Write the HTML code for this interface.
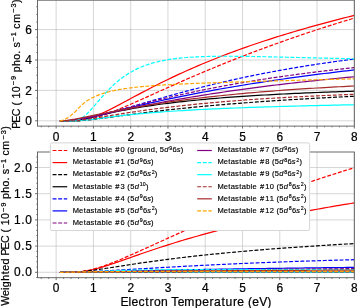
<!DOCTYPE html>
<html><head><meta charset="utf-8"><style>
html,body{margin:0;padding:0;background:#fff;}
svg{display:block;font-family:"Liberation Sans",sans-serif;will-change:transform;}
text{stroke:#000;stroke-width:0.22;}
.lt{stroke:#000;stroke-width:0.16;}
.g{stroke:#b0b0b0;stroke-opacity:0.5;stroke-width:1.0;}
.t{stroke:#5a5a5a;stroke-width:0.9;}
.s{fill:none;stroke:#5a5a5a;stroke-width:0.9;}
</style></head><body>
<svg width="357" height="308" viewBox="0 0 357 308">
<rect width="357" height="308" fill="#fff"/>
<defs><clipPath id="cu"><rect x="37.515" y="0.2" width="316.795" height="125.89999999999999"/></clipPath><clipPath id="cl"><rect x="37.515" y="152.0" width="316.795" height="125.69999999999999"/></clipPath></defs>
<line x1="56.15" y1="0.2" x2="56.15" y2="126.1" class="g"/>
<line x1="93.42" y1="0.2" x2="93.42" y2="126.1" class="g"/>
<line x1="130.69" y1="0.2" x2="130.69" y2="126.1" class="g"/>
<line x1="167.96" y1="0.2" x2="167.96" y2="126.1" class="g"/>
<line x1="205.23" y1="0.2" x2="205.23" y2="126.1" class="g"/>
<line x1="242.50" y1="0.2" x2="242.50" y2="126.1" class="g"/>
<line x1="279.77" y1="0.2" x2="279.77" y2="126.1" class="g"/>
<line x1="317.04" y1="0.2" x2="317.04" y2="126.1" class="g"/>
<line x1="354.31" y1="0.2" x2="354.31" y2="126.1" class="g"/>
<line x1="37.52" y1="120.80" x2="354.31" y2="120.80" class="g"/>
<line x1="37.52" y1="90.40" x2="354.31" y2="90.40" class="g"/>
<line x1="37.52" y1="60.00" x2="354.31" y2="60.00" class="g"/>
<line x1="37.52" y1="29.60" x2="354.31" y2="29.60" class="g"/>
<g clip-path="url(#cu)" fill="none" stroke-width="1.2">
<path d="M59.88,121.20 L61.08,121.20 L62.28,121.20 L63.48,121.20 L64.68,121.20 L65.88,121.20 L67.08,121.19 L68.28,121.19 L69.48,121.18 L70.68,121.16 L71.88,121.13 L73.08,121.09 L74.28,121.04 L75.48,120.97 L76.68,120.90 L77.88,120.80 L79.08,120.69 L80.28,120.56 L81.48,120.41 L82.68,120.25 L83.88,120.07 L85.08,119.87 L86.28,119.66 L87.48,119.43 L88.68,119.18 L89.88,118.92 L91.08,118.64 L92.28,118.35 L93.48,118.04 L94.68,117.72 L95.88,117.39 L97.08,117.04 L98.28,116.69 L99.48,116.32 L100.68,115.94 L101.88,115.55 L103.08,115.15 L104.29,114.74 L105.49,114.33 L106.69,113.90 L107.89,113.47 L109.09,113.03 L110.29,112.58 L111.49,112.12 L112.69,111.66 L113.89,111.19 L115.09,110.72 L116.29,110.24 L117.49,109.76 L118.69,109.27 L119.89,108.78 L121.09,108.28 L122.29,107.78 L123.49,107.28 L124.69,106.77 L125.89,106.26 L127.09,105.75 L128.29,105.23 L129.49,104.71 L130.69,104.19 L134.42,102.56 L138.14,100.91 L141.87,99.25 L145.60,97.58 L149.33,95.90 L153.05,94.22 L156.78,92.55 L160.51,90.87 L164.23,89.20 L167.96,87.53 L171.69,85.86 L175.41,84.21 L179.14,82.56 L182.87,80.92 L186.60,79.30 L190.32,77.68 L194.05,76.07 L197.78,74.47 L201.50,72.89 L205.23,71.32 L208.96,69.75 L212.68,68.21 L216.41,66.67 L220.14,65.14 L223.87,63.63 L227.59,62.13 L231.32,60.64 L235.05,59.17 L238.77,57.71 L242.50,56.26 L246.23,54.82 L249.95,53.40 L253.68,51.98 L257.41,50.58 L261.13,49.19 L264.86,47.82 L268.59,46.45 L272.32,45.10 L276.04,43.76 L279.77,42.43 L283.50,41.11 L287.22,39.80 L290.95,38.51 L294.68,37.22 L298.41,35.95 L302.13,34.69 L305.86,33.44 L309.59,32.19 L313.31,30.96 L317.04,29.74 L320.77,28.53 L324.49,27.33 L328.22,26.14 L331.95,24.96 L335.68,23.79 L339.40,22.62 L343.13,21.47 L346.86,20.33 L350.58,19.20 L354.31,18.07" stroke="#ff0000" stroke-dasharray="3.9,1.7"/>
<path d="M59.88,121.20 L61.08,121.20 L62.28,121.20 L63.48,121.20 L64.68,121.20 L65.88,121.20 L67.08,121.20 L68.28,121.19 L69.48,121.18 L70.68,121.16 L71.88,121.13 L73.08,121.09 L74.28,121.03 L75.48,120.95 L76.68,120.85 L77.88,120.73 L79.08,120.58 L80.28,120.41 L81.48,120.21 L82.68,119.99 L83.88,119.73 L85.08,119.46 L86.28,119.16 L87.48,118.83 L88.68,118.48 L89.88,118.11 L91.08,117.72 L92.28,117.31 L93.48,116.87 L94.68,116.42 L95.88,115.95 L97.08,115.47 L98.28,114.97 L99.48,114.46 L100.68,113.93 L101.88,113.39 L103.08,112.84 L104.29,112.28 L105.49,111.71 L106.69,111.13 L107.89,110.54 L109.09,109.95 L110.29,109.35 L111.49,108.74 L112.69,108.13 L113.89,107.51 L115.09,106.89 L116.29,106.26 L117.49,105.63 L118.69,105.00 L119.89,104.36 L121.09,103.73 L122.29,103.09 L123.49,102.45 L124.69,101.81 L125.89,101.16 L127.09,100.52 L128.29,99.88 L129.49,99.23 L130.69,98.59 L134.42,96.59 L138.14,94.61 L141.87,92.64 L145.60,90.68 L149.33,88.75 L153.05,86.83 L156.78,84.94 L160.51,83.08 L164.23,81.24 L167.96,79.42 L171.69,77.64 L175.41,75.88 L179.14,74.14 L182.87,72.44 L186.60,70.75 L190.32,69.10 L194.05,67.47 L197.78,65.87 L201.50,64.29 L205.23,62.73 L208.96,61.20 L212.68,59.69 L216.41,58.21 L220.14,56.75 L223.87,55.31 L227.59,53.89 L231.32,52.49 L235.05,51.11 L238.77,49.76 L242.50,48.42 L246.23,47.10 L249.95,45.80 L253.68,44.52 L257.41,43.25 L261.13,42.01 L264.86,40.78 L268.59,39.56 L272.32,38.37 L276.04,37.18 L279.77,36.02 L283.50,34.87 L287.22,33.73 L290.95,32.61 L294.68,31.50 L298.41,30.40 L302.13,29.32 L305.86,28.25 L309.59,27.19 L313.31,26.15 L317.04,25.11 L320.77,24.09 L324.49,23.08 L328.22,22.09 L331.95,21.10 L335.68,20.12 L339.40,19.16 L343.13,18.20 L346.86,17.26 L350.58,16.32 L354.31,15.40" stroke="#ff0000"/>
<path d="M59.88,121.20 L61.08,121.20 L62.28,121.20 L63.48,121.20 L64.68,121.20 L65.88,121.20 L67.08,121.19 L68.28,121.18 L69.48,121.16 L70.68,121.14 L71.88,121.11 L73.08,121.08 L74.28,121.03 L75.48,120.98 L76.68,120.92 L77.88,120.85 L79.08,120.78 L80.28,120.69 L81.48,120.60 L82.68,120.50 L83.88,120.40 L85.08,120.29 L86.28,120.18 L87.48,120.06 L88.68,119.93 L89.88,119.80 L91.08,119.67 L92.28,119.53 L93.48,119.39 L94.68,119.25 L95.88,119.10 L97.08,118.95 L98.28,118.80 L99.48,118.65 L100.68,118.50 L101.88,118.34 L103.08,118.18 L104.29,118.02 L105.49,117.87 L106.69,117.70 L107.89,117.54 L109.09,117.38 L110.29,117.22 L111.49,117.06 L112.69,116.89 L113.89,116.73 L115.09,116.57 L116.29,116.41 L117.49,116.24 L118.69,116.08 L119.89,115.92 L121.09,115.76 L122.29,115.59 L123.49,115.43 L124.69,115.27 L125.89,115.11 L127.09,114.95 L128.29,114.79 L129.49,114.63 L130.69,114.47 L134.42,113.99 L138.14,113.50 L141.87,113.03 L145.60,112.56 L149.33,112.11 L153.05,111.66 L156.78,111.21 L160.51,110.78 L164.23,110.35 L167.96,109.93 L171.69,109.52 L175.41,109.12 L179.14,108.73 L182.87,108.34 L186.60,107.96 L190.32,107.59 L194.05,107.22 L197.78,106.86 L201.50,106.51 L205.23,106.17 L208.96,105.83 L212.68,105.49 L216.41,105.17 L220.14,104.85 L223.87,104.53 L227.59,104.22 L231.32,103.92 L235.05,103.62 L238.77,103.33 L242.50,103.04 L246.23,102.76 L249.95,102.48 L253.68,102.21 L257.41,101.94 L261.13,101.67 L264.86,101.42 L268.59,101.16 L272.32,100.91 L276.04,100.66 L279.77,100.42 L283.50,100.18 L287.22,99.94 L290.95,99.71 L294.68,99.48 L298.41,99.26 L302.13,99.04 L305.86,98.82 L309.59,98.60 L313.31,98.39 L317.04,98.18 L320.77,97.98 L324.49,97.78 L328.22,97.58 L331.95,97.38 L335.68,97.19 L339.40,97.00 L343.13,96.81 L346.86,96.62 L350.58,96.44 L354.31,96.26" stroke="#000000" stroke-dasharray="3.9,1.7"/>
<path d="M59.88,121.20 L61.08,121.20 L62.28,121.20 L63.48,121.19 L64.68,121.18 L65.88,121.16 L67.08,121.12 L68.28,121.06 L69.48,120.99 L70.68,120.90 L71.88,120.78 L73.08,120.65 L74.28,120.50 L75.48,120.33 L76.68,120.15 L77.88,119.96 L79.08,119.75 L80.28,119.53 L81.48,119.30 L82.68,119.06 L83.88,118.82 L85.08,118.57 L86.28,118.31 L87.48,118.05 L88.68,117.79 L89.88,117.52 L91.08,117.25 L92.28,116.98 L93.48,116.71 L94.68,116.43 L95.88,116.16 L97.08,115.89 L98.28,115.61 L99.48,115.34 L100.68,115.07 L101.88,114.80 L103.08,114.53 L104.29,114.26 L105.49,114.00 L106.69,113.73 L107.89,113.47 L109.09,113.21 L110.29,112.95 L111.49,112.70 L112.69,112.44 L113.89,112.19 L115.09,111.94 L116.29,111.70 L117.49,111.45 L118.69,111.21 L119.89,110.97 L121.09,110.73 L122.29,110.50 L123.49,110.27 L124.69,110.04 L125.89,109.81 L127.09,109.59 L128.29,109.36 L129.49,109.15 L130.69,108.93 L134.42,108.27 L138.14,107.63 L141.87,107.02 L145.60,106.43 L149.33,105.86 L153.05,105.31 L156.78,104.78 L160.51,104.26 L164.23,103.77 L167.96,103.29 L171.69,102.83 L175.41,102.38 L179.14,101.95 L182.87,101.53 L186.60,101.13 L190.32,100.74 L194.05,100.36 L197.78,99.99 L201.50,99.64 L205.23,99.29 L208.96,98.96 L212.68,98.63 L216.41,98.32 L220.14,98.02 L223.87,97.72 L227.59,97.44 L231.32,97.16 L235.05,96.89 L238.77,96.63 L242.50,96.37 L246.23,96.12 L249.95,95.88 L253.68,95.65 L257.41,95.42 L261.13,95.20 L264.86,94.99 L268.59,94.78 L272.32,94.57 L276.04,94.37 L279.77,94.18 L283.50,93.99 L287.22,93.81 L290.95,93.63 L294.68,93.46 L298.41,93.29 L302.13,93.12 L305.86,92.96 L309.59,92.80 L313.31,92.65 L317.04,92.50 L320.77,92.36 L324.49,92.21 L328.22,92.07 L331.95,91.94 L335.68,91.81 L339.40,91.68 L343.13,91.55 L346.86,91.43 L350.58,91.31 L354.31,91.19" stroke="#000000"/>
<path d="M59.88,121.19 L61.08,121.18 L62.28,121.16 L63.48,121.13 L64.68,121.08 L65.88,121.03 L67.08,120.96 L68.28,120.89 L69.48,120.80 L70.68,120.70 L71.88,120.58 L73.08,120.46 L74.28,120.32 L75.48,120.17 L76.68,120.02 L77.88,119.85 L79.08,119.67 L80.28,119.48 L81.48,119.29 L82.68,119.08 L83.88,118.87 L85.08,118.65 L86.28,118.42 L87.48,118.18 L88.68,117.94 L89.88,117.69 L91.08,117.43 L92.28,117.17 L93.48,116.90 L94.68,116.63 L95.88,116.35 L97.08,116.06 L98.28,115.77 L99.48,115.48 L100.68,115.18 L101.88,114.88 L103.08,114.57 L104.29,114.27 L105.49,113.95 L106.69,113.64 L107.89,113.32 L109.09,113.00 L110.29,112.67 L111.49,112.35 L112.69,112.02 L113.89,111.69 L115.09,111.36 L116.29,111.02 L117.49,110.68 L118.69,110.35 L119.89,110.01 L121.09,109.67 L122.29,109.32 L123.49,108.98 L124.69,108.64 L125.89,108.29 L127.09,107.94 L128.29,107.60 L129.49,107.25 L130.69,106.90 L134.42,105.82 L138.14,104.74 L141.87,103.65 L145.60,102.57 L149.33,101.49 L153.05,100.41 L156.78,99.34 L160.51,98.28 L164.23,97.23 L167.96,96.18 L171.69,95.15 L175.41,94.12 L179.14,93.11 L182.87,92.10 L186.60,91.11 L190.32,90.13 L194.05,89.16 L197.78,88.21 L201.50,87.26 L205.23,86.33 L208.96,85.42 L212.68,84.51 L216.41,83.62 L220.14,82.74 L223.87,81.87 L227.59,81.02 L231.32,80.18 L235.05,79.35 L238.77,78.54 L242.50,77.74 L246.23,76.95 L249.95,76.17 L253.68,75.41 L257.41,74.66 L261.13,73.92 L264.86,73.19 L268.59,72.48 L272.32,71.77 L276.04,71.08 L279.77,70.40 L283.50,69.73 L287.22,69.08 L290.95,68.43 L294.68,67.80 L298.41,67.17 L302.13,66.56 L305.86,65.96 L309.59,65.37 L313.31,64.79 L317.04,64.21 L320.77,63.65 L324.49,63.10 L328.22,62.56 L331.95,62.03 L335.68,61.51 L339.40,60.99 L343.13,60.49 L346.86,59.99 L350.58,59.51 L354.31,59.03" stroke="#0000ff" stroke-dasharray="3.9,1.7"/>
<path d="M59.88,121.20 L61.08,121.20 L62.28,121.18 L63.48,121.16 L64.68,121.12 L65.88,121.06 L67.08,120.99 L68.28,120.89 L69.48,120.79 L70.68,120.66 L71.88,120.52 L73.08,120.36 L74.28,120.20 L75.48,120.02 L76.68,119.82 L77.88,119.62 L79.08,119.41 L80.28,119.19 L81.48,118.97 L82.68,118.73 L83.88,118.49 L85.08,118.25 L86.28,118.00 L87.48,117.74 L88.68,117.48 L89.88,117.22 L91.08,116.95 L92.28,116.68 L93.48,116.41 L94.68,116.13 L95.88,115.85 L97.08,115.57 L98.28,115.29 L99.48,115.00 L100.68,114.72 L101.88,114.43 L103.08,114.15 L104.29,113.86 L105.49,113.57 L106.69,113.28 L107.89,112.99 L109.09,112.70 L110.29,112.41 L111.49,112.12 L112.69,111.83 L113.89,111.54 L115.09,111.24 L116.29,110.95 L117.49,110.66 L118.69,110.37 L119.89,110.08 L121.09,109.80 L122.29,109.51 L123.49,109.22 L124.69,108.93 L125.89,108.64 L127.09,108.36 L128.29,108.07 L129.49,107.79 L130.69,107.50 L134.42,106.62 L138.14,105.75 L141.87,104.89 L145.60,104.04 L149.33,103.20 L153.05,102.36 L156.78,101.54 L160.51,100.73 L164.23,99.92 L167.96,99.13 L171.69,98.35 L175.41,97.57 L179.14,96.81 L182.87,96.05 L186.60,95.31 L190.32,94.58 L194.05,93.85 L197.78,93.13 L201.50,92.43 L205.23,91.73 L208.96,91.04 L212.68,90.36 L216.41,89.69 L220.14,89.03 L223.87,88.38 L227.59,87.73 L231.32,87.10 L235.05,86.47 L238.77,85.85 L242.50,85.24 L246.23,84.63 L249.95,84.03 L253.68,83.44 L257.41,82.86 L261.13,82.29 L264.86,81.72 L268.59,81.16 L272.32,80.60 L276.04,80.05 L279.77,79.51 L283.50,78.98 L287.22,78.45 L290.95,77.93 L294.68,77.41 L298.41,76.90 L302.13,76.40 L305.86,75.90 L309.59,75.41 L313.31,74.92 L317.04,74.44 L320.77,73.96 L324.49,73.49 L328.22,73.03 L331.95,72.57 L335.68,72.11 L339.40,71.66 L343.13,71.22 L346.86,70.78 L350.58,70.35 L354.31,69.92" stroke="#0000ff"/>
<path d="M59.88,121.20 L61.08,121.20 L62.28,121.19 L63.48,121.18 L64.68,121.15 L65.88,121.12 L67.08,121.06 L68.28,120.99 L69.48,120.91 L70.68,120.81 L71.88,120.69 L73.08,120.56 L74.28,120.41 L75.48,120.25 L76.68,120.08 L77.88,119.89 L79.08,119.70 L80.28,119.49 L81.48,119.27 L82.68,119.04 L83.88,118.81 L85.08,118.56 L86.28,118.31 L87.48,118.05 L88.68,117.79 L89.88,117.52 L91.08,117.24 L92.28,116.96 L93.48,116.68 L94.68,116.39 L95.88,116.09 L97.08,115.80 L98.28,115.50 L99.48,115.19 L100.68,114.89 L101.88,114.58 L103.08,114.27 L104.29,113.96 L105.49,113.64 L106.69,113.33 L107.89,113.01 L109.09,112.70 L110.29,112.38 L111.49,112.06 L112.69,111.74 L113.89,111.42 L115.09,111.10 L116.29,110.78 L117.49,110.46 L118.69,110.13 L119.89,109.81 L121.09,109.49 L122.29,109.17 L123.49,108.85 L124.69,108.53 L125.89,108.21 L127.09,107.89 L128.29,107.57 L129.49,107.26 L130.69,106.94 L134.42,105.96 L138.14,104.99 L141.87,104.02 L145.60,103.07 L149.33,102.13 L153.05,101.20 L156.78,100.28 L160.51,99.38 L164.23,98.49 L167.96,97.61 L171.69,96.74 L175.41,95.89 L179.14,95.04 L182.87,94.22 L186.60,93.40 L190.32,92.60 L194.05,91.81 L197.78,91.03 L201.50,90.27 L205.23,89.52 L208.96,88.78 L212.68,88.05 L216.41,87.33 L220.14,86.63 L223.87,85.93 L227.59,85.25 L231.32,84.58 L235.05,83.92 L238.77,83.27 L242.50,82.63 L246.23,82.01 L249.95,81.39 L253.68,80.78 L257.41,80.18 L261.13,79.60 L264.86,79.02 L268.59,78.45 L272.32,77.89 L276.04,77.34 L279.77,76.79 L283.50,76.26 L287.22,75.74 L290.95,75.22 L294.68,74.71 L298.41,74.21 L302.13,73.72 L305.86,73.24 L309.59,72.76 L313.31,72.29 L317.04,71.83 L320.77,71.37 L324.49,70.93 L328.22,70.49 L331.95,70.05 L335.68,69.63 L339.40,69.21 L343.13,68.79 L346.86,68.38 L350.58,67.98 L354.31,67.59" stroke="#800080" stroke-dasharray="3.9,1.7"/>
<path d="M59.88,121.14 L61.08,121.09 L62.28,121.02 L63.48,120.93 L64.68,120.83 L65.88,120.72 L67.08,120.59 L68.28,120.45 L69.48,120.31 L70.68,120.15 L71.88,119.98 L73.08,119.81 L74.28,119.62 L75.48,119.44 L76.68,119.24 L77.88,119.04 L79.08,118.84 L80.28,118.63 L81.48,118.41 L82.68,118.19 L83.88,117.97 L85.08,117.75 L86.28,117.52 L87.48,117.29 L88.68,117.06 L89.88,116.82 L91.08,116.58 L92.28,116.34 L93.48,116.10 L94.68,115.86 L95.88,115.62 L97.08,115.37 L98.28,115.13 L99.48,114.88 L100.68,114.63 L101.88,114.38 L103.08,114.13 L104.29,113.88 L105.49,113.63 L106.69,113.38 L107.89,113.13 L109.09,112.88 L110.29,112.63 L111.49,112.38 L112.69,112.13 L113.89,111.88 L115.09,111.63 L116.29,111.38 L117.49,111.13 L118.69,110.88 L119.89,110.63 L121.09,110.38 L122.29,110.13 L123.49,109.88 L124.69,109.64 L125.89,109.39 L127.09,109.14 L128.29,108.90 L129.49,108.65 L130.69,108.41 L134.42,107.65 L138.14,106.90 L141.87,106.16 L145.60,105.42 L149.33,104.70 L153.05,103.98 L156.78,103.27 L160.51,102.57 L164.23,101.88 L167.96,101.19 L171.69,100.52 L175.41,99.85 L179.14,99.20 L182.87,98.55 L186.60,97.91 L190.32,97.28 L194.05,96.66 L197.78,96.05 L201.50,95.44 L205.23,94.85 L208.96,94.26 L212.68,93.68 L216.41,93.11 L220.14,92.55 L223.87,91.99 L227.59,91.44 L231.32,90.90 L235.05,90.37 L238.77,89.85 L242.50,89.33 L246.23,88.82 L249.95,88.32 L253.68,87.82 L257.41,87.34 L261.13,86.85 L264.86,86.38 L268.59,85.91 L272.32,85.45 L276.04,85.00 L279.77,84.55 L283.50,84.11 L287.22,83.67 L290.95,83.24 L294.68,82.82 L298.41,82.40 L302.13,81.98 L305.86,81.58 L309.59,81.18 L313.31,80.78 L317.04,80.39 L320.77,80.01 L324.49,79.63 L328.22,79.25 L331.95,78.88 L335.68,78.52 L339.40,78.16 L343.13,77.80 L346.86,77.45 L350.58,77.11 L354.31,76.77" stroke="#800080"/>
<path d="M59.88,121.20 L61.08,121.20 L62.28,121.20 L63.48,121.20 L64.68,121.20 L65.88,121.20 L67.08,121.20 L68.28,121.19 L69.48,121.18 L70.68,121.15 L71.88,121.09 L73.08,120.99 L74.28,120.84 L75.48,120.61 L76.68,120.30 L77.88,119.90 L79.08,119.41 L80.28,118.81 L81.48,118.10 L82.68,117.31 L83.88,116.41 L85.08,115.43 L86.28,114.37 L87.48,113.24 L88.68,112.04 L89.88,110.79 L91.08,109.50 L92.28,108.17 L93.48,106.81 L94.68,105.43 L95.88,104.04 L97.08,102.64 L98.28,101.25 L99.48,99.85 L100.68,98.46 L101.88,97.09 L103.08,95.73 L104.29,94.40 L105.49,93.08 L106.69,91.79 L107.89,90.53 L109.09,89.29 L110.29,88.08 L111.49,86.91 L112.69,85.76 L113.89,84.64 L115.09,83.56 L116.29,82.50 L117.49,81.48 L118.69,80.49 L119.89,79.53 L121.09,78.60 L122.29,77.70 L123.49,76.82 L124.69,75.98 L125.89,75.17 L127.09,74.39 L128.29,73.63 L129.49,72.90 L130.69,72.19 L134.42,70.16 L138.14,68.35 L141.87,66.74 L145.60,65.32 L149.33,64.06 L153.05,62.95 L156.78,61.97 L160.51,61.11 L164.23,60.36 L167.96,59.70 L171.69,59.13 L175.41,58.63 L179.14,58.20 L182.87,57.83 L186.60,57.51 L190.32,57.24 L194.05,57.01 L197.78,56.82 L201.50,56.66 L205.23,56.54 L208.96,56.44 L212.68,56.36 L216.41,56.31 L220.14,56.27 L223.87,56.25 L227.59,56.25 L231.32,56.26 L235.05,56.28 L238.77,56.31 L242.50,56.35 L246.23,56.40 L249.95,56.46 L253.68,56.52 L257.41,56.59 L261.13,56.66 L264.86,56.73 L268.59,56.81 L272.32,56.89 L276.04,56.98 L279.77,57.06 L283.50,57.15 L287.22,57.24 L290.95,57.33 L294.68,57.42 L298.41,57.51 L302.13,57.60 L305.86,57.69 L309.59,57.78 L313.31,57.87 L317.04,57.95 L320.77,58.04 L324.49,58.13 L328.22,58.21 L331.95,58.30 L335.68,58.38 L339.40,58.47 L343.13,58.55 L346.86,58.63 L350.58,58.71 L354.31,58.78" stroke="#00ffff" stroke-dasharray="3.9,1.7"/>
<path d="M59.88,121.20 L61.08,121.20 L62.28,121.20 L63.48,121.20 L64.68,121.20 L65.88,121.20 L67.08,121.19 L68.28,121.18 L69.48,121.17 L70.68,121.14 L71.88,121.11 L73.08,121.07 L74.28,121.01 L75.48,120.95 L76.68,120.88 L77.88,120.79 L79.08,120.70 L80.28,120.60 L81.48,120.49 L82.68,120.38 L83.88,120.26 L85.08,120.13 L86.28,120.00 L87.48,119.86 L88.68,119.72 L89.88,119.57 L91.08,119.43 L92.28,119.28 L93.48,119.13 L94.68,118.97 L95.88,118.82 L97.08,118.66 L98.28,118.51 L99.48,118.35 L100.68,118.20 L101.88,118.04 L103.08,117.89 L104.29,117.73 L105.49,117.58 L106.69,117.43 L107.89,117.28 L109.09,117.13 L110.29,116.98 L111.49,116.83 L112.69,116.68 L113.89,116.54 L115.09,116.39 L116.29,116.25 L117.49,116.11 L118.69,115.97 L119.89,115.83 L121.09,115.70 L122.29,115.56 L123.49,115.43 L124.69,115.30 L125.89,115.17 L127.09,115.04 L128.29,114.91 L129.49,114.79 L130.69,114.66 L134.42,114.29 L138.14,113.93 L141.87,113.58 L145.60,113.25 L149.33,112.93 L153.05,112.62 L156.78,112.33 L160.51,112.04 L164.23,111.77 L167.96,111.51 L171.69,111.25 L175.41,111.01 L179.14,110.77 L182.87,110.54 L186.60,110.32 L190.32,110.11 L194.05,109.90 L197.78,109.71 L201.50,109.51 L205.23,109.33 L208.96,109.14 L212.68,108.97 L216.41,108.80 L220.14,108.63 L223.87,108.47 L227.59,108.32 L231.32,108.17 L235.05,108.02 L238.77,107.87 L242.50,107.73 L246.23,107.60 L249.95,107.47 L253.68,107.34 L257.41,107.21 L261.13,107.09 L264.86,106.97 L268.59,106.85 L272.32,106.73 L276.04,106.62 L279.77,106.51 L283.50,106.41 L287.22,106.30 L290.95,106.20 L294.68,106.10 L298.41,106.00 L302.13,105.91 L305.86,105.81 L309.59,105.72 L313.31,105.63 L317.04,105.54 L320.77,105.45 L324.49,105.37 L328.22,105.28 L331.95,105.20 L335.68,105.12 L339.40,105.04 L343.13,104.97 L346.86,104.89 L350.58,104.81 L354.31,104.74" stroke="#00ffff"/>
<path d="M59.88,121.20 L61.08,121.20 L62.28,121.20 L63.48,121.19 L64.68,121.18 L65.88,121.16 L67.08,121.14 L68.28,121.10 L69.48,121.05 L70.68,120.99 L71.88,120.92 L73.08,120.84 L74.28,120.74 L75.48,120.64 L76.68,120.53 L77.88,120.41 L79.08,120.28 L80.28,120.14 L81.48,119.99 L82.68,119.84 L83.88,119.69 L85.08,119.53 L86.28,119.36 L87.48,119.19 L88.68,119.01 L89.88,118.84 L91.08,118.66 L92.28,118.47 L93.48,118.29 L94.68,118.10 L95.88,117.91 L97.08,117.72 L98.28,117.52 L99.48,117.33 L100.68,117.14 L101.88,116.94 L103.08,116.75 L104.29,116.55 L105.49,116.35 L106.69,116.16 L107.89,115.96 L109.09,115.76 L110.29,115.57 L111.49,115.37 L112.69,115.18 L113.89,114.98 L115.09,114.79 L116.29,114.60 L117.49,114.40 L118.69,114.21 L119.89,114.02 L121.09,113.83 L122.29,113.64 L123.49,113.45 L124.69,113.27 L125.89,113.08 L127.09,112.89 L128.29,112.71 L129.49,112.53 L130.69,112.34 L134.42,111.79 L138.14,111.24 L141.87,110.71 L145.60,110.18 L149.33,109.67 L153.05,109.17 L156.78,108.68 L160.51,108.21 L164.23,107.74 L167.96,107.29 L171.69,106.85 L175.41,106.41 L179.14,105.99 L182.87,105.58 L186.60,105.18 L190.32,104.79 L194.05,104.41 L197.78,104.04 L201.50,103.68 L205.23,103.32 L208.96,102.98 L212.68,102.64 L216.41,102.31 L220.14,101.99 L223.87,101.68 L227.59,101.37 L231.32,101.08 L235.05,100.79 L238.77,100.50 L242.50,100.23 L246.23,99.95 L249.95,99.69 L253.68,99.43 L257.41,99.18 L261.13,98.94 L264.86,98.70 L268.59,98.46 L272.32,98.23 L276.04,98.01 L279.77,97.79 L283.50,97.58 L287.22,97.37 L290.95,97.16 L294.68,96.96 L298.41,96.77 L302.13,96.58 L305.86,96.39 L309.59,96.21 L313.31,96.03 L317.04,95.86 L320.77,95.69 L324.49,95.52 L328.22,95.36 L331.95,95.20 L335.68,95.05 L339.40,94.90 L343.13,94.75 L346.86,94.60 L350.58,94.46 L354.31,94.32" stroke="#a52a2a" stroke-dasharray="3.9,1.7"/>
<path d="M59.88,121.12 L61.08,121.04 L62.28,120.95 L63.48,120.84 L64.68,120.70 L65.88,120.56 L67.08,120.40 L68.28,120.23 L69.48,120.05 L70.68,119.86 L71.88,119.66 L73.08,119.45 L74.28,119.24 L75.48,119.02 L76.68,118.80 L77.88,118.58 L79.08,118.35 L80.28,118.11 L81.48,117.88 L82.68,117.64 L83.88,117.40 L85.08,117.16 L86.28,116.91 L87.48,116.67 L88.68,116.42 L89.88,116.18 L91.08,115.93 L92.28,115.69 L93.48,115.44 L94.68,115.19 L95.88,114.95 L97.08,114.70 L98.28,114.45 L99.48,114.21 L100.68,113.96 L101.88,113.72 L103.08,113.47 L104.29,113.23 L105.49,112.99 L106.69,112.75 L107.89,112.51 L109.09,112.27 L110.29,112.03 L111.49,111.80 L112.69,111.56 L113.89,111.33 L115.09,111.09 L116.29,110.86 L117.49,110.63 L118.69,110.40 L119.89,110.17 L121.09,109.95 L122.29,109.72 L123.49,109.50 L124.69,109.27 L125.89,109.05 L127.09,108.83 L128.29,108.61 L129.49,108.40 L130.69,108.18 L134.42,107.52 L138.14,106.87 L141.87,106.24 L145.60,105.62 L149.33,105.01 L153.05,104.42 L156.78,103.84 L160.51,103.27 L164.23,102.72 L167.96,102.18 L171.69,101.65 L175.41,101.13 L179.14,100.62 L182.87,100.13 L186.60,99.64 L190.32,99.17 L194.05,98.71 L197.78,98.25 L201.50,97.81 L205.23,97.38 L208.96,96.96 L212.68,96.54 L216.41,96.14 L220.14,95.75 L223.87,95.36 L227.59,94.98 L231.32,94.61 L235.05,94.25 L238.77,93.90 L242.50,93.55 L246.23,93.21 L249.95,92.88 L253.68,92.56 L257.41,92.24 L261.13,91.93 L264.86,91.63 L268.59,91.33 L272.32,91.04 L276.04,90.76 L279.77,90.48 L283.50,90.21 L287.22,89.94 L290.95,89.68 L294.68,89.42 L298.41,89.17 L302.13,88.93 L305.86,88.69 L309.59,88.46 L313.31,88.23 L317.04,88.00 L320.77,87.78 L324.49,87.57 L328.22,87.36 L331.95,87.15 L335.68,86.95 L339.40,86.75 L343.13,86.55 L346.86,86.36 L350.58,86.18 L354.31,86.00" stroke="#a52a2a"/>
<path d="M59.88,121.20 L61.08,120.59 L62.28,120.21 L63.48,119.79 L64.68,119.34 L65.88,118.82 L67.08,118.14 L68.28,117.40 L69.48,116.58 L70.68,115.60 L71.88,114.58 L73.08,113.60 L74.28,112.58 L75.48,111.49 L76.68,110.21 L77.88,108.88 L79.08,107.64 L80.28,106.44 L81.48,105.29 L82.68,104.18 L83.88,103.13 L85.08,102.12 L86.28,101.24 L87.48,100.46 L88.68,99.73 L89.88,99.04 L91.08,98.38 L92.28,97.76 L93.48,97.17 L94.68,96.61 L95.88,96.08 L97.08,95.58 L98.28,95.10 L99.48,94.64 L100.68,94.21 L101.88,93.80 L103.08,93.41 L104.29,93.04 L105.49,92.68 L106.69,92.34 L107.89,92.02 L109.09,91.71 L110.29,91.41 L111.49,91.13 L112.69,90.85 L113.89,90.59 L115.09,90.34 L116.29,90.11 L117.49,89.88 L118.69,89.65 L119.89,89.44 L121.09,89.24 L122.29,89.04 L123.49,88.85 L124.69,88.67 L125.89,88.49 L127.09,88.32 L128.29,88.16 L129.49,88.00 L130.69,87.85 L134.42,87.41 L138.14,87.00 L141.87,86.64 L145.60,86.30 L149.33,85.99 L153.05,85.70 L156.78,85.44 L160.51,85.19 L164.23,84.96 L167.96,84.74 L171.69,84.53 L175.41,84.34 L179.14,84.15 L182.87,83.97 L186.60,83.81 L190.32,83.64 L194.05,83.49 L197.78,83.34 L201.50,83.19 L205.23,83.05 L208.96,82.91 L212.68,82.78 L216.41,82.65 L220.14,82.52 L223.87,82.40 L227.59,82.28 L231.32,82.16 L235.05,82.04 L238.77,81.93 L242.50,81.81 L246.23,81.70 L249.95,81.59 L253.68,81.48 L257.41,81.38 L261.13,81.27 L264.86,81.16 L268.59,81.06 L272.32,80.96 L276.04,80.86 L279.77,80.75 L283.50,80.65 L287.22,80.55 L290.95,80.45 L294.68,80.35 L298.41,80.26 L302.13,80.16 L305.86,80.06 L309.59,79.96 L313.31,79.87 L317.04,79.77 L320.77,79.68 L324.49,79.58 L328.22,79.49 L331.95,79.39 L335.68,79.30 L339.40,79.20 L343.13,79.11 L346.86,79.01 L350.58,78.92 L354.31,78.83" stroke="#ffa500" stroke-dasharray="3.9,1.7"/>
</g>
<line x1="41.24" y1="126.1" x2="41.24" y2="127.3" class="t"/>
<line x1="48.70" y1="126.1" x2="48.70" y2="127.3" class="t"/>
<line x1="56.15" y1="126.1" x2="56.15" y2="128.5" class="t"/>
<line x1="63.60" y1="126.1" x2="63.60" y2="127.3" class="t"/>
<line x1="71.06" y1="126.1" x2="71.06" y2="127.3" class="t"/>
<line x1="78.51" y1="126.1" x2="78.51" y2="127.3" class="t"/>
<line x1="85.97" y1="126.1" x2="85.97" y2="127.3" class="t"/>
<line x1="93.42" y1="126.1" x2="93.42" y2="128.5" class="t"/>
<line x1="100.87" y1="126.1" x2="100.87" y2="127.3" class="t"/>
<line x1="108.33" y1="126.1" x2="108.33" y2="127.3" class="t"/>
<line x1="115.78" y1="126.1" x2="115.78" y2="127.3" class="t"/>
<line x1="123.24" y1="126.1" x2="123.24" y2="127.3" class="t"/>
<line x1="130.69" y1="126.1" x2="130.69" y2="128.5" class="t"/>
<line x1="138.14" y1="126.1" x2="138.14" y2="127.3" class="t"/>
<line x1="145.60" y1="126.1" x2="145.60" y2="127.3" class="t"/>
<line x1="153.05" y1="126.1" x2="153.05" y2="127.3" class="t"/>
<line x1="160.51" y1="126.1" x2="160.51" y2="127.3" class="t"/>
<line x1="167.96" y1="126.1" x2="167.96" y2="128.5" class="t"/>
<line x1="175.41" y1="126.1" x2="175.41" y2="127.3" class="t"/>
<line x1="182.87" y1="126.1" x2="182.87" y2="127.3" class="t"/>
<line x1="190.32" y1="126.1" x2="190.32" y2="127.3" class="t"/>
<line x1="197.78" y1="126.1" x2="197.78" y2="127.3" class="t"/>
<line x1="205.23" y1="126.1" x2="205.23" y2="128.5" class="t"/>
<line x1="212.68" y1="126.1" x2="212.68" y2="127.3" class="t"/>
<line x1="220.14" y1="126.1" x2="220.14" y2="127.3" class="t"/>
<line x1="227.59" y1="126.1" x2="227.59" y2="127.3" class="t"/>
<line x1="235.05" y1="126.1" x2="235.05" y2="127.3" class="t"/>
<line x1="242.50" y1="126.1" x2="242.50" y2="128.5" class="t"/>
<line x1="249.95" y1="126.1" x2="249.95" y2="127.3" class="t"/>
<line x1="257.41" y1="126.1" x2="257.41" y2="127.3" class="t"/>
<line x1="264.86" y1="126.1" x2="264.86" y2="127.3" class="t"/>
<line x1="272.32" y1="126.1" x2="272.32" y2="127.3" class="t"/>
<line x1="279.77" y1="126.1" x2="279.77" y2="128.5" class="t"/>
<line x1="287.22" y1="126.1" x2="287.22" y2="127.3" class="t"/>
<line x1="294.68" y1="126.1" x2="294.68" y2="127.3" class="t"/>
<line x1="302.13" y1="126.1" x2="302.13" y2="127.3" class="t"/>
<line x1="309.59" y1="126.1" x2="309.59" y2="127.3" class="t"/>
<line x1="317.04" y1="126.1" x2="317.04" y2="128.5" class="t"/>
<line x1="324.49" y1="126.1" x2="324.49" y2="127.3" class="t"/>
<line x1="331.95" y1="126.1" x2="331.95" y2="127.3" class="t"/>
<line x1="339.40" y1="126.1" x2="339.40" y2="127.3" class="t"/>
<line x1="346.86" y1="126.1" x2="346.86" y2="127.3" class="t"/>
<line x1="354.31" y1="126.1" x2="354.31" y2="128.5" class="t"/>
<line x1="35.12" y1="120.80" x2="37.52" y2="120.80" class="t"/>
<line x1="35.12" y1="90.40" x2="37.52" y2="90.40" class="t"/>
<line x1="35.12" y1="60.00" x2="37.52" y2="60.00" class="t"/>
<line x1="35.12" y1="29.60" x2="37.52" y2="29.60" class="t"/>
<line x1="36.31" y1="113.20" x2="37.52" y2="113.20" class="t"/>
<line x1="36.31" y1="105.60" x2="37.52" y2="105.60" class="t"/>
<line x1="36.31" y1="98.00" x2="37.52" y2="98.00" class="t"/>
<line x1="36.31" y1="82.80" x2="37.52" y2="82.80" class="t"/>
<line x1="36.31" y1="75.20" x2="37.52" y2="75.20" class="t"/>
<line x1="36.31" y1="67.60" x2="37.52" y2="67.60" class="t"/>
<line x1="36.31" y1="52.40" x2="37.52" y2="52.40" class="t"/>
<line x1="36.31" y1="44.80" x2="37.52" y2="44.80" class="t"/>
<line x1="36.31" y1="37.20" x2="37.52" y2="37.20" class="t"/>
<line x1="36.31" y1="22.00" x2="37.52" y2="22.00" class="t"/>
<line x1="36.31" y1="14.40" x2="37.52" y2="14.40" class="t"/>
<line x1="36.31" y1="6.80" x2="37.52" y2="6.80" class="t"/>
<rect x="37.52" y="0.2" width="316.80" height="125.89999999999999" class="s"/>
<line x1="56.15" y1="152.0" x2="56.15" y2="277.7" class="g"/>
<line x1="93.42" y1="152.0" x2="93.42" y2="277.7" class="g"/>
<line x1="130.69" y1="152.0" x2="130.69" y2="277.7" class="g"/>
<line x1="167.96" y1="152.0" x2="167.96" y2="277.7" class="g"/>
<line x1="205.23" y1="152.0" x2="205.23" y2="277.7" class="g"/>
<line x1="242.50" y1="152.0" x2="242.50" y2="277.7" class="g"/>
<line x1="279.77" y1="152.0" x2="279.77" y2="277.7" class="g"/>
<line x1="317.04" y1="152.0" x2="317.04" y2="277.7" class="g"/>
<line x1="354.31" y1="152.0" x2="354.31" y2="277.7" class="g"/>
<line x1="37.52" y1="272.30" x2="354.31" y2="272.30" class="g"/>
<line x1="37.52" y1="246.10" x2="354.31" y2="246.10" class="g"/>
<line x1="37.52" y1="219.90" x2="354.31" y2="219.90" class="g"/>
<line x1="37.52" y1="193.70" x2="354.31" y2="193.70" class="g"/>
<line x1="37.52" y1="167.50" x2="354.31" y2="167.50" class="g"/>
<g clip-path="url(#cl)" fill="none" stroke-width="1.2">
<path d="M59.88,272.30 L61.08,272.30 L62.28,272.30 L63.48,272.30 L64.68,272.30 L65.88,272.30 L67.08,272.29 L68.28,272.29 L69.48,272.28 L70.68,272.26 L71.88,272.23 L73.08,272.19 L74.28,272.14 L75.48,272.07 L76.68,271.99 L77.88,271.89 L79.08,271.78 L80.28,271.65 L81.48,271.50 L82.68,271.34 L83.88,271.15 L85.08,270.95 L86.28,270.74 L87.48,270.50 L88.68,270.25 L89.88,269.99 L91.08,269.70 L92.28,269.41 L93.48,269.10 L94.68,268.77 L95.88,268.44 L97.08,268.09 L98.28,267.72 L99.48,267.35 L100.68,266.97 L101.88,266.57 L103.08,266.17 L104.29,265.75 L105.49,265.33 L106.69,264.90 L107.89,264.46 L109.09,264.01 L110.29,263.56 L111.49,263.10 L112.69,262.63 L113.89,262.16 L115.09,261.68 L116.29,261.19 L117.49,260.70 L118.69,260.21 L119.89,259.71 L121.09,259.21 L122.29,258.70 L123.49,258.19 L124.69,257.67 L125.89,257.16 L127.09,256.63 L128.29,256.11 L129.49,255.58 L130.69,255.06 L134.42,253.40 L138.14,251.73 L141.87,250.05 L145.60,248.35 L149.33,246.66 L153.05,244.96 L156.78,243.25 L160.51,241.55 L164.23,239.86 L167.96,238.17 L171.69,236.48 L175.41,234.80 L179.14,233.14 L182.87,231.47 L186.60,229.82 L190.32,228.18 L194.05,226.55 L197.78,224.94 L201.50,223.33 L205.23,221.74 L208.96,220.15 L212.68,218.58 L216.41,217.02 L220.14,215.48 L223.87,213.95 L227.59,212.43 L231.32,210.92 L235.05,209.42 L238.77,207.94 L242.50,206.47 L246.23,205.02 L249.95,203.57 L253.68,202.14 L257.41,200.72 L261.13,199.31 L264.86,197.92 L268.59,196.53 L272.32,195.16 L276.04,193.80 L279.77,192.46 L283.50,191.12 L287.22,189.79 L290.95,188.48 L294.68,187.18 L298.41,185.89 L302.13,184.61 L305.86,183.34 L309.59,182.08 L313.31,180.83 L317.04,179.59 L320.77,178.37 L324.49,177.15 L328.22,175.94 L331.95,174.75 L335.68,173.56 L339.40,172.38 L343.13,171.21 L346.86,170.05 L350.58,168.90 L354.31,167.76" stroke="#ff0000" stroke-dasharray="3.9,1.7"/>
<path d="M59.88,272.30 L61.08,272.30 L62.28,272.30 L63.48,272.30 L64.68,272.30 L65.88,272.30 L67.08,272.30 L68.28,272.29 L69.48,272.29 L70.68,272.28 L71.88,272.26 L73.08,272.23 L74.28,272.19 L75.48,272.14 L76.68,272.07 L77.88,271.99 L79.08,271.89 L80.28,271.78 L81.48,271.65 L82.68,271.50 L83.88,271.34 L85.08,271.16 L86.28,270.96 L87.48,270.75 L88.68,270.52 L89.88,270.27 L91.08,270.02 L92.28,269.74 L93.48,269.46 L94.68,269.16 L95.88,268.86 L97.08,268.54 L98.28,268.21 L99.48,267.87 L100.68,267.53 L101.88,267.18 L103.08,266.81 L104.29,266.45 L105.49,266.07 L106.69,265.69 L107.89,265.31 L109.09,264.92 L110.29,264.52 L111.49,264.12 L112.69,263.72 L113.89,263.31 L115.09,262.91 L116.29,262.50 L117.49,262.08 L118.69,261.67 L119.89,261.25 L121.09,260.83 L122.29,260.41 L123.49,259.99 L124.69,259.57 L125.89,259.15 L127.09,258.73 L128.29,258.31 L129.49,257.88 L130.69,257.46 L134.42,256.15 L138.14,254.85 L141.87,253.55 L145.60,252.27 L149.33,251.00 L153.05,249.75 L156.78,248.51 L160.51,247.28 L164.23,246.07 L167.96,244.88 L171.69,243.71 L175.41,242.55 L179.14,241.42 L182.87,240.30 L186.60,239.19 L190.32,238.11 L194.05,237.04 L197.78,235.98 L201.50,234.95 L205.23,233.93 L208.96,232.92 L212.68,231.93 L216.41,230.96 L220.14,230.00 L223.87,229.06 L227.59,228.12 L231.32,227.21 L235.05,226.30 L238.77,225.41 L242.50,224.53 L246.23,223.67 L249.95,222.82 L253.68,221.98 L257.41,221.15 L261.13,220.33 L264.86,219.52 L268.59,218.72 L272.32,217.94 L276.04,217.16 L279.77,216.40 L283.50,215.64 L287.22,214.89 L290.95,214.16 L294.68,213.43 L298.41,212.71 L302.13,212.00 L305.86,211.30 L309.59,210.60 L313.31,209.92 L317.04,209.24 L320.77,208.57 L324.49,207.91 L328.22,207.25 L331.95,206.60 L335.68,205.96 L339.40,205.33 L343.13,204.70 L346.86,204.08 L350.58,203.47 L354.31,202.86" stroke="#ff0000"/>
<path d="M59.88,272.30 L61.08,272.30 L62.28,272.30 L63.48,272.30 L64.68,272.30 L65.88,272.29 L67.08,272.29 L68.28,272.28 L69.48,272.26 L70.68,272.23 L71.88,272.20 L73.08,272.16 L74.28,272.11 L75.48,272.05 L76.68,271.98 L77.88,271.90 L79.08,271.81 L80.28,271.72 L81.48,271.61 L82.68,271.50 L83.88,271.38 L85.08,271.25 L86.28,271.12 L87.48,270.98 L88.68,270.84 L89.88,270.69 L91.08,270.54 L92.28,270.38 L93.48,270.22 L94.68,270.05 L95.88,269.89 L97.08,269.71 L98.28,269.54 L99.48,269.37 L100.68,269.19 L101.88,269.01 L103.08,268.83 L104.29,268.65 L105.49,268.46 L106.69,268.28 L107.89,268.09 L109.09,267.91 L110.29,267.72 L111.49,267.53 L112.69,267.34 L113.89,267.16 L115.09,266.97 L116.29,266.78 L117.49,266.59 L118.69,266.41 L119.89,266.22 L121.09,266.03 L122.29,265.85 L123.49,265.66 L124.69,265.48 L125.89,265.29 L127.09,265.11 L128.29,264.92 L129.49,264.74 L130.69,264.56 L134.42,264.00 L138.14,263.44 L141.87,262.90 L145.60,262.36 L149.33,261.83 L153.05,261.31 L156.78,260.80 L160.51,260.30 L164.23,259.81 L167.96,259.33 L171.69,258.86 L175.41,258.40 L179.14,257.94 L182.87,257.50 L186.60,257.06 L190.32,256.63 L194.05,256.21 L197.78,255.80 L201.50,255.39 L205.23,254.99 L208.96,254.60 L212.68,254.22 L216.41,253.85 L220.14,253.48 L223.87,253.11 L227.59,252.76 L231.32,252.41 L235.05,252.07 L238.77,251.73 L242.50,251.40 L246.23,251.07 L249.95,250.75 L253.68,250.44 L257.41,250.13 L261.13,249.83 L264.86,249.53 L268.59,249.23 L272.32,248.94 L276.04,248.66 L279.77,248.38 L283.50,248.10 L287.22,247.83 L290.95,247.56 L294.68,247.30 L298.41,247.04 L302.13,246.79 L305.86,246.54 L309.59,246.29 L313.31,246.05 L317.04,245.81 L320.77,245.57 L324.49,245.34 L328.22,245.11 L331.95,244.88 L335.68,244.66 L339.40,244.44 L343.13,244.22 L346.86,244.01 L350.58,243.80 L354.31,243.59" stroke="#000000" stroke-dasharray="3.9,1.7"/>
<path d="M59.88,272.30 L61.08,272.30 L62.28,272.30 L63.48,272.30 L64.68,272.30 L65.88,272.30 L67.08,272.30 L68.28,272.30 L69.48,272.30 L70.68,272.30 L71.88,272.29 L73.08,272.29 L74.28,272.29 L75.48,272.29 L76.68,272.29 L77.88,272.28 L79.08,272.28 L80.28,272.28 L81.48,272.27 L82.68,272.27 L83.88,272.27 L85.08,272.26 L86.28,272.26 L87.48,272.26 L88.68,272.25 L89.88,272.25 L91.08,272.25 L92.28,272.24 L93.48,272.24 L94.68,272.23 L95.88,272.23 L97.08,272.23 L98.28,272.22 L99.48,272.22 L100.68,272.22 L101.88,272.21 L103.08,272.21 L104.29,272.20 L105.49,272.20 L106.69,272.20 L107.89,272.19 L109.09,272.19 L110.29,272.19 L111.49,272.18 L112.69,272.18 L113.89,272.18 L115.09,272.17 L116.29,272.17 L117.49,272.17 L118.69,272.16 L119.89,272.16 L121.09,272.16 L122.29,272.15 L123.49,272.15 L124.69,272.15 L125.89,272.14 L127.09,272.14 L128.29,272.14 L129.49,272.13 L130.69,272.13 L134.42,272.12 L138.14,272.11 L141.87,272.11 L145.60,272.10 L149.33,272.09 L153.05,272.08 L156.78,272.07 L160.51,272.07 L164.23,272.06 L167.96,272.05 L171.69,272.05 L175.41,272.04 L179.14,272.04 L182.87,272.03 L186.60,272.02 L190.32,272.02 L194.05,272.01 L197.78,272.01 L201.50,272.00 L205.23,272.00 L208.96,271.99 L212.68,271.99 L216.41,271.99 L220.14,271.98 L223.87,271.98 L227.59,271.97 L231.32,271.97 L235.05,271.97 L238.77,271.96 L242.50,271.96 L246.23,271.96 L249.95,271.95 L253.68,271.95 L257.41,271.95 L261.13,271.94 L264.86,271.94 L268.59,271.94 L272.32,271.93 L276.04,271.93 L279.77,271.93 L283.50,271.93 L287.22,271.92 L290.95,271.92 L294.68,271.92 L298.41,271.92 L302.13,271.91 L305.86,271.91 L309.59,271.91 L313.31,271.91 L317.04,271.91 L320.77,271.90 L324.49,271.90 L328.22,271.90 L331.95,271.90 L335.68,271.90 L339.40,271.89 L343.13,271.89 L346.86,271.89 L350.58,271.89 L354.31,271.89" stroke="#000000"/>
<path d="M59.88,272.30 L61.08,272.30 L62.28,272.29 L63.48,272.28 L64.68,272.28 L65.88,272.27 L67.08,272.25 L68.28,272.24 L69.48,272.22 L70.68,272.20 L71.88,272.17 L73.08,272.15 L74.28,272.12 L75.48,272.09 L76.68,272.06 L77.88,272.03 L79.08,271.99 L80.28,271.95 L81.48,271.91 L82.68,271.87 L83.88,271.83 L85.08,271.78 L86.28,271.74 L87.48,271.69 L88.68,271.64 L89.88,271.59 L91.08,271.54 L92.28,271.48 L93.48,271.43 L94.68,271.37 L95.88,271.32 L97.08,271.26 L98.28,271.20 L99.48,271.14 L100.68,271.08 L101.88,271.02 L103.08,270.96 L104.29,270.89 L105.49,270.83 L106.69,270.77 L107.89,270.70 L109.09,270.64 L110.29,270.57 L111.49,270.51 L112.69,270.44 L113.89,270.37 L115.09,270.30 L116.29,270.24 L117.49,270.17 L118.69,270.10 L119.89,270.03 L121.09,269.96 L122.29,269.89 L123.49,269.82 L124.69,269.75 L125.89,269.68 L127.09,269.61 L128.29,269.54 L129.49,269.47 L130.69,269.40 L134.42,269.18 L138.14,268.96 L141.87,268.74 L145.60,268.52 L149.33,268.30 L153.05,268.09 L156.78,267.87 L160.51,267.65 L164.23,267.44 L167.96,267.23 L171.69,267.02 L175.41,266.81 L179.14,266.60 L182.87,266.40 L186.60,266.20 L190.32,266.00 L194.05,265.81 L197.78,265.61 L201.50,265.42 L205.23,265.23 L208.96,265.05 L212.68,264.86 L216.41,264.68 L220.14,264.50 L223.87,264.33 L227.59,264.15 L231.32,263.98 L235.05,263.82 L238.77,263.65 L242.50,263.49 L246.23,263.33 L249.95,263.17 L253.68,263.02 L257.41,262.86 L261.13,262.71 L264.86,262.57 L268.59,262.42 L272.32,262.28 L276.04,262.14 L279.77,262.00 L283.50,261.87 L287.22,261.73 L290.95,261.60 L294.68,261.47 L298.41,261.35 L302.13,261.22 L305.86,261.10 L309.59,260.98 L313.31,260.86 L317.04,260.75 L320.77,260.63 L324.49,260.52 L328.22,260.41 L331.95,260.30 L335.68,260.20 L339.40,260.09 L343.13,259.99 L346.86,259.89 L350.58,259.79 L354.31,259.70" stroke="#0000ff" stroke-dasharray="3.9,1.7"/>
<path d="M59.88,272.30 L61.08,272.30 L62.28,272.30 L63.48,272.30 L64.68,272.29 L65.88,272.29 L67.08,272.28 L68.28,272.27 L69.48,272.26 L70.68,272.25 L71.88,272.23 L73.08,272.22 L74.28,272.20 L75.48,272.19 L76.68,272.17 L77.88,272.15 L79.08,272.13 L80.28,272.11 L81.48,272.09 L82.68,272.06 L83.88,272.04 L85.08,272.02 L86.28,271.99 L87.48,271.97 L88.68,271.94 L89.88,271.92 L91.08,271.89 L92.28,271.87 L93.48,271.84 L94.68,271.81 L95.88,271.79 L97.08,271.76 L98.28,271.73 L99.48,271.70 L100.68,271.68 L101.88,271.65 L103.08,271.62 L104.29,271.59 L105.49,271.57 L106.69,271.54 L107.89,271.51 L109.09,271.48 L110.29,271.45 L111.49,271.43 L112.69,271.40 L113.89,271.37 L115.09,271.34 L116.29,271.31 L117.49,271.29 L118.69,271.26 L119.89,271.23 L121.09,271.20 L122.29,271.17 L123.49,271.15 L124.69,271.12 L125.89,271.09 L127.09,271.06 L128.29,271.04 L129.49,271.01 L130.69,270.98 L134.42,270.90 L138.14,270.81 L141.87,270.73 L145.60,270.65 L149.33,270.57 L153.05,270.49 L156.78,270.41 L160.51,270.33 L164.23,270.25 L167.96,270.18 L171.69,270.10 L175.41,270.03 L179.14,269.95 L182.87,269.88 L186.60,269.81 L190.32,269.74 L194.05,269.67 L197.78,269.60 L201.50,269.53 L205.23,269.46 L208.96,269.40 L212.68,269.33 L216.41,269.27 L220.14,269.21 L223.87,269.14 L227.59,269.08 L231.32,269.02 L235.05,268.96 L238.77,268.90 L242.50,268.84 L246.23,268.78 L249.95,268.72 L253.68,268.67 L257.41,268.61 L261.13,268.56 L264.86,268.50 L268.59,268.45 L272.32,268.39 L276.04,268.34 L279.77,268.29 L283.50,268.24 L287.22,268.19 L290.95,268.14 L294.68,268.09 L298.41,268.04 L302.13,267.99 L305.86,267.94 L309.59,267.89 L313.31,267.85 L317.04,267.80 L320.77,267.76 L324.49,267.71 L328.22,267.67 L331.95,267.62 L335.68,267.58 L339.40,267.53 L343.13,267.49 L346.86,267.45 L350.58,267.41 L354.31,267.37" stroke="#0000ff"/>
<path d="M59.88,272.30 L61.08,272.30 L62.28,272.30 L63.48,272.30 L64.68,272.30 L65.88,272.29 L67.08,272.29 L68.28,272.29 L69.48,272.28 L70.68,272.27 L71.88,272.27 L73.08,272.26 L74.28,272.25 L75.48,272.23 L76.68,272.22 L77.88,272.21 L79.08,272.20 L80.28,272.18 L81.48,272.17 L82.68,272.15 L83.88,272.14 L85.08,272.12 L86.28,272.10 L87.48,272.08 L88.68,272.07 L89.88,272.05 L91.08,272.03 L92.28,272.01 L93.48,271.99 L94.68,271.97 L95.88,271.95 L97.08,271.93 L98.28,271.91 L99.48,271.89 L100.68,271.87 L101.88,271.84 L103.08,271.82 L104.29,271.80 L105.49,271.78 L106.69,271.76 L107.89,271.74 L109.09,271.72 L110.29,271.69 L111.49,271.67 L112.69,271.65 L113.89,271.63 L115.09,271.61 L116.29,271.58 L117.49,271.56 L118.69,271.54 L119.89,271.52 L121.09,271.50 L122.29,271.47 L123.49,271.45 L124.69,271.43 L125.89,271.41 L127.09,271.39 L128.29,271.36 L129.49,271.34 L130.69,271.32 L134.42,271.25 L138.14,271.19 L141.87,271.12 L145.60,271.05 L149.33,270.99 L153.05,270.93 L156.78,270.86 L160.51,270.80 L164.23,270.74 L167.96,270.68 L171.69,270.62 L175.41,270.56 L179.14,270.50 L182.87,270.45 L186.60,270.39 L190.32,270.33 L194.05,270.28 L197.78,270.23 L201.50,270.17 L205.23,270.12 L208.96,270.07 L212.68,270.02 L216.41,269.97 L220.14,269.92 L223.87,269.88 L227.59,269.83 L231.32,269.78 L235.05,269.74 L238.77,269.69 L242.50,269.65 L246.23,269.61 L249.95,269.56 L253.68,269.52 L257.41,269.48 L261.13,269.44 L264.86,269.40 L268.59,269.36 L272.32,269.32 L276.04,269.29 L279.77,269.25 L283.50,269.21 L287.22,269.18 L290.95,269.14 L294.68,269.11 L298.41,269.07 L302.13,269.04 L305.86,269.00 L309.59,268.97 L313.31,268.94 L317.04,268.91 L320.77,268.88 L324.49,268.85 L328.22,268.81 L331.95,268.79 L335.68,268.76 L339.40,268.73 L343.13,268.70 L346.86,268.67 L350.58,268.64 L354.31,268.62" stroke="#800080" stroke-dasharray="3.9,1.7"/>
<path d="M59.88,272.30 L61.08,272.30 L62.28,272.30 L63.48,272.30 L64.68,272.29 L65.88,272.29 L67.08,272.29 L68.28,272.29 L69.48,272.29 L70.68,272.29 L71.88,272.28 L73.08,272.28 L74.28,272.28 L75.48,272.28 L76.68,272.27 L77.88,272.27 L79.08,272.27 L80.28,272.26 L81.48,272.26 L82.68,272.26 L83.88,272.26 L85.08,272.25 L86.28,272.25 L87.48,272.25 L88.68,272.24 L89.88,272.24 L91.08,272.24 L92.28,272.23 L93.48,272.23 L94.68,272.23 L95.88,272.22 L97.08,272.22 L98.28,272.22 L99.48,272.21 L100.68,272.21 L101.88,272.21 L103.08,272.20 L104.29,272.20 L105.49,272.20 L106.69,272.19 L107.89,272.19 L109.09,272.19 L110.29,272.18 L111.49,272.18 L112.69,272.18 L113.89,272.17 L115.09,272.17 L116.29,272.17 L117.49,272.16 L118.69,272.16 L119.89,272.15 L121.09,272.15 L122.29,272.15 L123.49,272.14 L124.69,272.14 L125.89,272.14 L127.09,272.13 L128.29,272.13 L129.49,272.13 L130.69,272.12 L134.42,272.11 L138.14,272.10 L141.87,272.09 L145.60,272.08 L149.33,272.07 L153.05,272.06 L156.78,272.05 L160.51,272.04 L164.23,272.03 L167.96,272.03 L171.69,272.02 L175.41,272.01 L179.14,272.00 L182.87,271.99 L186.60,271.98 L190.32,271.97 L194.05,271.96 L197.78,271.95 L201.50,271.95 L205.23,271.94 L208.96,271.93 L212.68,271.92 L216.41,271.91 L220.14,271.91 L223.87,271.90 L227.59,271.89 L231.32,271.88 L235.05,271.88 L238.77,271.87 L242.50,271.86 L246.23,271.85 L249.95,271.85 L253.68,271.84 L257.41,271.83 L261.13,271.83 L264.86,271.82 L268.59,271.81 L272.32,271.81 L276.04,271.80 L279.77,271.80 L283.50,271.79 L287.22,271.78 L290.95,271.78 L294.68,271.77 L298.41,271.77 L302.13,271.76 L305.86,271.76 L309.59,271.75 L313.31,271.74 L317.04,271.74 L320.77,271.73 L324.49,271.73 L328.22,271.72 L331.95,271.72 L335.68,271.71 L339.40,271.71 L343.13,271.70 L346.86,271.70 L350.58,271.69 L354.31,271.69" stroke="#800080"/>
<path d="M59.88,272.30 L61.08,272.30 L62.28,272.30 L63.48,272.30 L64.68,272.30 L65.88,272.30 L67.08,272.30 L68.28,272.30 L69.48,272.30 L70.68,272.30 L71.88,272.30 L73.08,272.29 L74.28,272.28 L75.48,272.27 L76.68,272.26 L77.88,272.24 L79.08,272.22 L80.28,272.20 L81.48,272.17 L82.68,272.13 L83.88,272.09 L85.08,272.05 L86.28,272.01 L87.48,271.96 L88.68,271.91 L89.88,271.85 L91.08,271.80 L92.28,271.74 L93.48,271.68 L94.68,271.62 L95.88,271.56 L97.08,271.50 L98.28,271.44 L99.48,271.38 L100.68,271.32 L101.88,271.26 L103.08,271.21 L104.29,271.15 L105.49,271.09 L106.69,271.04 L107.89,270.98 L109.09,270.93 L110.29,270.88 L111.49,270.83 L112.69,270.78 L113.89,270.73 L115.09,270.68 L116.29,270.64 L117.49,270.59 L118.69,270.55 L119.89,270.51 L121.09,270.47 L122.29,270.43 L123.49,270.39 L124.69,270.36 L125.89,270.32 L127.09,270.29 L128.29,270.26 L129.49,270.23 L130.69,270.20 L134.42,270.11 L138.14,270.03 L141.87,269.96 L145.60,269.90 L149.33,269.85 L153.05,269.80 L156.78,269.76 L160.51,269.72 L164.23,269.69 L167.96,269.66 L171.69,269.63 L175.41,269.61 L179.14,269.59 L182.87,269.58 L186.60,269.56 L190.32,269.55 L194.05,269.54 L197.78,269.53 L201.50,269.53 L205.23,269.52 L208.96,269.52 L212.68,269.52 L216.41,269.51 L220.14,269.51 L223.87,269.51 L227.59,269.51 L231.32,269.51 L235.05,269.51 L238.77,269.51 L242.50,269.51 L246.23,269.52 L249.95,269.52 L253.68,269.52 L257.41,269.52 L261.13,269.53 L264.86,269.53 L268.59,269.53 L272.32,269.54 L276.04,269.54 L279.77,269.55 L283.50,269.55 L287.22,269.55 L290.95,269.56 L294.68,269.56 L298.41,269.56 L302.13,269.57 L305.86,269.57 L309.59,269.58 L313.31,269.58 L317.04,269.58 L320.77,269.59 L324.49,269.59 L328.22,269.59 L331.95,269.60 L335.68,269.60 L339.40,269.61 L343.13,269.61 L346.86,269.61 L350.58,269.62 L354.31,269.62" stroke="#00ffff" stroke-dasharray="3.9,1.7"/>
<path d="M59.88,272.30 L61.08,272.30 L62.28,272.30 L63.48,272.30 L64.68,272.30 L65.88,272.30 L67.08,272.30 L68.28,272.30 L69.48,272.30 L70.68,272.30 L71.88,272.30 L73.08,272.30 L74.28,272.30 L75.48,272.30 L76.68,272.30 L77.88,272.30 L79.08,272.30 L80.28,272.30 L81.48,272.30 L82.68,272.29 L83.88,272.29 L85.08,272.29 L86.28,272.29 L87.48,272.29 L88.68,272.29 L89.88,272.29 L91.08,272.29 L92.28,272.29 L93.48,272.29 L94.68,272.28 L95.88,272.28 L97.08,272.28 L98.28,272.28 L99.48,272.28 L100.68,272.28 L101.88,272.28 L103.08,272.28 L104.29,272.28 L105.49,272.28 L106.69,272.27 L107.89,272.27 L109.09,272.27 L110.29,272.27 L111.49,272.27 L112.69,272.27 L113.89,272.27 L115.09,272.27 L116.29,272.27 L117.49,272.27 L118.69,272.26 L119.89,272.26 L121.09,272.26 L122.29,272.26 L123.49,272.26 L124.69,272.26 L125.89,272.26 L127.09,272.26 L128.29,272.26 L129.49,272.26 L130.69,272.26 L134.42,272.25 L138.14,272.25 L141.87,272.25 L145.60,272.25 L149.33,272.24 L153.05,272.24 L156.78,272.24 L160.51,272.24 L164.23,272.24 L167.96,272.23 L171.69,272.23 L175.41,272.23 L179.14,272.23 L182.87,272.23 L186.60,272.23 L190.32,272.22 L194.05,272.22 L197.78,272.22 L201.50,272.22 L205.23,272.22 L208.96,272.22 L212.68,272.22 L216.41,272.21 L220.14,272.21 L223.87,272.21 L227.59,272.21 L231.32,272.21 L235.05,272.21 L238.77,272.21 L242.50,272.21 L246.23,272.21 L249.95,272.21 L253.68,272.20 L257.41,272.20 L261.13,272.20 L264.86,272.20 L268.59,272.20 L272.32,272.20 L276.04,272.20 L279.77,272.20 L283.50,272.20 L287.22,272.20 L290.95,272.20 L294.68,272.20 L298.41,272.20 L302.13,272.19 L305.86,272.19 L309.59,272.19 L313.31,272.19 L317.04,272.19 L320.77,272.19 L324.49,272.19 L328.22,272.19 L331.95,272.19 L335.68,272.19 L339.40,272.19 L343.13,272.19 L346.86,272.19 L350.58,272.19 L354.31,272.19" stroke="#00ffff"/>
<path d="M59.88,272.30 L61.08,272.30 L62.28,272.30 L63.48,272.30 L64.68,272.30 L65.88,272.30 L67.08,272.30 L68.28,272.30 L69.48,272.30 L70.68,272.30 L71.88,272.30 L73.08,272.29 L74.28,272.29 L75.48,272.29 L76.68,272.29 L77.88,272.29 L79.08,272.28 L80.28,272.28 L81.48,272.28 L82.68,272.28 L83.88,272.27 L85.08,272.27 L86.28,272.27 L87.48,272.27 L88.68,272.26 L89.88,272.26 L91.08,272.26 L92.28,272.25 L93.48,272.25 L94.68,272.25 L95.88,272.24 L97.08,272.24 L98.28,272.24 L99.48,272.23 L100.68,272.23 L101.88,272.23 L103.08,272.22 L104.29,272.22 L105.49,272.22 L106.69,272.21 L107.89,272.21 L109.09,272.21 L110.29,272.20 L111.49,272.20 L112.69,272.20 L113.89,272.19 L115.09,272.19 L116.29,272.19 L117.49,272.18 L118.69,272.18 L119.89,272.18 L121.09,272.17 L122.29,272.17 L123.49,272.17 L124.69,272.16 L125.89,272.16 L127.09,272.16 L128.29,272.15 L129.49,272.15 L130.69,272.15 L134.42,272.14 L138.14,272.13 L141.87,272.12 L145.60,272.11 L149.33,272.10 L153.05,272.09 L156.78,272.08 L160.51,272.08 L164.23,272.07 L167.96,272.06 L171.69,272.05 L175.41,272.05 L179.14,272.04 L182.87,272.03 L186.60,272.02 L190.32,272.02 L194.05,272.01 L197.78,272.01 L201.50,272.00 L205.23,271.99 L208.96,271.99 L212.68,271.98 L216.41,271.98 L220.14,271.97 L223.87,271.96 L227.59,271.96 L231.32,271.95 L235.05,271.95 L238.77,271.94 L242.50,271.94 L246.23,271.93 L249.95,271.93 L253.68,271.93 L257.41,271.92 L261.13,271.92 L264.86,271.91 L268.59,271.91 L272.32,271.91 L276.04,271.90 L279.77,271.90 L283.50,271.89 L287.22,271.89 L290.95,271.89 L294.68,271.88 L298.41,271.88 L302.13,271.88 L305.86,271.87 L309.59,271.87 L313.31,271.87 L317.04,271.86 L320.77,271.86 L324.49,271.86 L328.22,271.86 L331.95,271.85 L335.68,271.85 L339.40,271.85 L343.13,271.85 L346.86,271.84 L350.58,271.84 L354.31,271.84" stroke="#a52a2a" stroke-dasharray="3.9,1.7"/>
<path d="M59.88,272.29 L61.08,272.29 L62.28,272.28 L63.48,272.28 L64.68,272.27 L65.88,272.26 L67.08,272.25 L68.28,272.24 L69.48,272.23 L70.68,272.22 L71.88,272.20 L73.08,272.19 L74.28,272.18 L75.48,272.17 L76.68,272.15 L77.88,272.14 L79.08,272.12 L80.28,272.11 L81.48,272.09 L82.68,272.08 L83.88,272.06 L85.08,272.05 L86.28,272.03 L87.48,272.02 L88.68,272.00 L89.88,271.99 L91.08,271.97 L92.28,271.96 L93.48,271.94 L94.68,271.93 L95.88,271.91 L97.08,271.90 L98.28,271.88 L99.48,271.87 L100.68,271.85 L101.88,271.84 L103.08,271.82 L104.29,271.81 L105.49,271.79 L106.69,271.78 L107.89,271.76 L109.09,271.75 L110.29,271.73 L111.49,271.72 L112.69,271.70 L113.89,271.69 L115.09,271.67 L116.29,271.66 L117.49,271.65 L118.69,271.63 L119.89,271.62 L121.09,271.60 L122.29,271.59 L123.49,271.58 L124.69,271.56 L125.89,271.55 L127.09,271.54 L128.29,271.52 L129.49,271.51 L130.69,271.49 L134.42,271.45 L138.14,271.41 L141.87,271.37 L145.60,271.34 L149.33,271.30 L153.05,271.26 L156.78,271.23 L160.51,271.19 L164.23,271.16 L167.96,271.12 L171.69,271.09 L175.41,271.06 L179.14,271.03 L182.87,271.00 L186.60,270.97 L190.32,270.94 L194.05,270.91 L197.78,270.88 L201.50,270.85 L205.23,270.83 L208.96,270.80 L212.68,270.78 L216.41,270.75 L220.14,270.73 L223.87,270.70 L227.59,270.68 L231.32,270.66 L235.05,270.63 L238.77,270.61 L242.50,270.59 L246.23,270.57 L249.95,270.55 L253.68,270.53 L257.41,270.51 L261.13,270.49 L264.86,270.47 L268.59,270.45 L272.32,270.43 L276.04,270.42 L279.77,270.40 L283.50,270.38 L287.22,270.37 L290.95,270.35 L294.68,270.33 L298.41,270.32 L302.13,270.30 L305.86,270.29 L309.59,270.27 L313.31,270.26 L317.04,270.25 L320.77,270.23 L324.49,270.22 L328.22,270.21 L331.95,270.19 L335.68,270.18 L339.40,270.17 L343.13,270.16 L346.86,270.15 L350.58,270.13 L354.31,270.12" stroke="#a52a2a"/>
<path d="M59.88,272.30 L61.08,272.29 L62.28,272.28 L63.48,272.27 L64.68,272.26 L65.88,272.24 L67.08,272.23 L68.28,272.21 L69.48,272.19 L70.68,272.17 L71.88,272.14 L73.08,272.12 L74.28,272.09 L75.48,272.07 L76.68,272.04 L77.88,272.00 L79.08,271.97 L80.28,271.94 L81.48,271.92 L82.68,271.89 L83.88,271.87 L85.08,271.84 L86.28,271.82 L87.48,271.80 L88.68,271.78 L89.88,271.77 L91.08,271.75 L92.28,271.74 L93.48,271.72 L94.68,271.71 L95.88,271.70 L97.08,271.68 L98.28,271.67 L99.48,271.66 L100.68,271.65 L101.88,271.64 L103.08,271.63 L104.29,271.62 L105.49,271.61 L106.69,271.61 L107.89,271.60 L109.09,271.59 L110.29,271.58 L111.49,271.58 L112.69,271.57 L113.89,271.56 L115.09,271.56 L116.29,271.55 L117.49,271.55 L118.69,271.54 L119.89,271.54 L121.09,271.53 L122.29,271.53 L123.49,271.52 L124.69,271.52 L125.89,271.51 L127.09,271.51 L128.29,271.51 L129.49,271.50 L130.69,271.50 L134.42,271.49 L138.14,271.48 L141.87,271.47 L145.60,271.46 L149.33,271.45 L153.05,271.45 L156.78,271.44 L160.51,271.43 L164.23,271.43 L167.96,271.42 L171.69,271.42 L175.41,271.41 L179.14,271.41 L182.87,271.40 L186.60,271.40 L190.32,271.40 L194.05,271.39 L197.78,271.39 L201.50,271.39 L205.23,271.38 L208.96,271.38 L212.68,271.38 L216.41,271.37 L220.14,271.37 L223.87,271.37 L227.59,271.36 L231.32,271.36 L235.05,271.36 L238.77,271.36 L242.50,271.35 L246.23,271.35 L249.95,271.35 L253.68,271.34 L257.41,271.34 L261.13,271.34 L264.86,271.34 L268.59,271.33 L272.32,271.33 L276.04,271.33 L279.77,271.33 L283.50,271.32 L287.22,271.32 L290.95,271.32 L294.68,271.32 L298.41,271.32 L302.13,271.31 L305.86,271.31 L309.59,271.31 L313.31,271.31 L317.04,271.30 L320.77,271.30 L324.49,271.30 L328.22,271.30 L331.95,271.29 L335.68,271.29 L339.40,271.29 L343.13,271.29 L346.86,271.29 L350.58,271.28 L354.31,271.28" stroke="#ffa500" stroke-dasharray="3.9,1.7"/>
</g>
<line x1="41.24" y1="277.7" x2="41.24" y2="278.9" class="t"/>
<line x1="48.70" y1="277.7" x2="48.70" y2="278.9" class="t"/>
<line x1="56.15" y1="277.7" x2="56.15" y2="280.09999999999997" class="t"/>
<line x1="63.60" y1="277.7" x2="63.60" y2="278.9" class="t"/>
<line x1="71.06" y1="277.7" x2="71.06" y2="278.9" class="t"/>
<line x1="78.51" y1="277.7" x2="78.51" y2="278.9" class="t"/>
<line x1="85.97" y1="277.7" x2="85.97" y2="278.9" class="t"/>
<line x1="93.42" y1="277.7" x2="93.42" y2="280.09999999999997" class="t"/>
<line x1="100.87" y1="277.7" x2="100.87" y2="278.9" class="t"/>
<line x1="108.33" y1="277.7" x2="108.33" y2="278.9" class="t"/>
<line x1="115.78" y1="277.7" x2="115.78" y2="278.9" class="t"/>
<line x1="123.24" y1="277.7" x2="123.24" y2="278.9" class="t"/>
<line x1="130.69" y1="277.7" x2="130.69" y2="280.09999999999997" class="t"/>
<line x1="138.14" y1="277.7" x2="138.14" y2="278.9" class="t"/>
<line x1="145.60" y1="277.7" x2="145.60" y2="278.9" class="t"/>
<line x1="153.05" y1="277.7" x2="153.05" y2="278.9" class="t"/>
<line x1="160.51" y1="277.7" x2="160.51" y2="278.9" class="t"/>
<line x1="167.96" y1="277.7" x2="167.96" y2="280.09999999999997" class="t"/>
<line x1="175.41" y1="277.7" x2="175.41" y2="278.9" class="t"/>
<line x1="182.87" y1="277.7" x2="182.87" y2="278.9" class="t"/>
<line x1="190.32" y1="277.7" x2="190.32" y2="278.9" class="t"/>
<line x1="197.78" y1="277.7" x2="197.78" y2="278.9" class="t"/>
<line x1="205.23" y1="277.7" x2="205.23" y2="280.09999999999997" class="t"/>
<line x1="212.68" y1="277.7" x2="212.68" y2="278.9" class="t"/>
<line x1="220.14" y1="277.7" x2="220.14" y2="278.9" class="t"/>
<line x1="227.59" y1="277.7" x2="227.59" y2="278.9" class="t"/>
<line x1="235.05" y1="277.7" x2="235.05" y2="278.9" class="t"/>
<line x1="242.50" y1="277.7" x2="242.50" y2="280.09999999999997" class="t"/>
<line x1="249.95" y1="277.7" x2="249.95" y2="278.9" class="t"/>
<line x1="257.41" y1="277.7" x2="257.41" y2="278.9" class="t"/>
<line x1="264.86" y1="277.7" x2="264.86" y2="278.9" class="t"/>
<line x1="272.32" y1="277.7" x2="272.32" y2="278.9" class="t"/>
<line x1="279.77" y1="277.7" x2="279.77" y2="280.09999999999997" class="t"/>
<line x1="287.22" y1="277.7" x2="287.22" y2="278.9" class="t"/>
<line x1="294.68" y1="277.7" x2="294.68" y2="278.9" class="t"/>
<line x1="302.13" y1="277.7" x2="302.13" y2="278.9" class="t"/>
<line x1="309.59" y1="277.7" x2="309.59" y2="278.9" class="t"/>
<line x1="317.04" y1="277.7" x2="317.04" y2="280.09999999999997" class="t"/>
<line x1="324.49" y1="277.7" x2="324.49" y2="278.9" class="t"/>
<line x1="331.95" y1="277.7" x2="331.95" y2="278.9" class="t"/>
<line x1="339.40" y1="277.7" x2="339.40" y2="278.9" class="t"/>
<line x1="346.86" y1="277.7" x2="346.86" y2="278.9" class="t"/>
<line x1="354.31" y1="277.7" x2="354.31" y2="280.09999999999997" class="t"/>
<line x1="35.12" y1="272.30" x2="37.52" y2="272.30" class="t"/>
<line x1="35.12" y1="246.10" x2="37.52" y2="246.10" class="t"/>
<line x1="35.12" y1="219.90" x2="37.52" y2="219.90" class="t"/>
<line x1="35.12" y1="193.70" x2="37.52" y2="193.70" class="t"/>
<line x1="35.12" y1="167.50" x2="37.52" y2="167.50" class="t"/>
<line x1="36.31" y1="277.54" x2="37.52" y2="277.54" class="t"/>
<line x1="36.31" y1="267.06" x2="37.52" y2="267.06" class="t"/>
<line x1="36.31" y1="261.82" x2="37.52" y2="261.82" class="t"/>
<line x1="36.31" y1="256.58" x2="37.52" y2="256.58" class="t"/>
<line x1="36.31" y1="251.34" x2="37.52" y2="251.34" class="t"/>
<line x1="36.31" y1="240.86" x2="37.52" y2="240.86" class="t"/>
<line x1="36.31" y1="235.62" x2="37.52" y2="235.62" class="t"/>
<line x1="36.31" y1="230.38" x2="37.52" y2="230.38" class="t"/>
<line x1="36.31" y1="225.14" x2="37.52" y2="225.14" class="t"/>
<line x1="36.31" y1="214.66" x2="37.52" y2="214.66" class="t"/>
<line x1="36.31" y1="209.42" x2="37.52" y2="209.42" class="t"/>
<line x1="36.31" y1="204.18" x2="37.52" y2="204.18" class="t"/>
<line x1="36.31" y1="198.94" x2="37.52" y2="198.94" class="t"/>
<line x1="36.31" y1="188.46" x2="37.52" y2="188.46" class="t"/>
<line x1="36.31" y1="183.22" x2="37.52" y2="183.22" class="t"/>
<line x1="36.31" y1="177.98" x2="37.52" y2="177.98" class="t"/>
<line x1="36.31" y1="172.74" x2="37.52" y2="172.74" class="t"/>
<line x1="36.31" y1="162.26" x2="37.52" y2="162.26" class="t"/>
<line x1="36.31" y1="157.02" x2="37.52" y2="157.02" class="t"/>
<rect x="37.52" y="152.0" width="316.80" height="125.70" class="s"/>
<text x="56.15" y="140.60" font-size="11.92" text-anchor="middle" >0</text>
<text x="56.15" y="292.00" font-size="11.92" text-anchor="middle" >0</text>
<text x="93.42" y="140.60" font-size="11.92" text-anchor="middle" >1</text>
<text x="93.42" y="292.00" font-size="11.92" text-anchor="middle" >1</text>
<text x="130.69" y="140.60" font-size="11.92" text-anchor="middle" >2</text>
<text x="130.69" y="292.00" font-size="11.92" text-anchor="middle" >2</text>
<text x="167.96" y="140.60" font-size="11.92" text-anchor="middle" >3</text>
<text x="167.96" y="292.00" font-size="11.92" text-anchor="middle" >3</text>
<text x="205.23" y="140.60" font-size="11.92" text-anchor="middle" >4</text>
<text x="205.23" y="292.00" font-size="11.92" text-anchor="middle" >4</text>
<text x="242.50" y="140.60" font-size="11.92" text-anchor="middle" >5</text>
<text x="242.50" y="292.00" font-size="11.92" text-anchor="middle" >5</text>
<text x="279.77" y="140.60" font-size="11.92" text-anchor="middle" >6</text>
<text x="279.77" y="292.00" font-size="11.92" text-anchor="middle" >6</text>
<text x="317.04" y="140.60" font-size="11.92" text-anchor="middle" >7</text>
<text x="317.04" y="292.00" font-size="11.92" text-anchor="middle" >7</text>
<text x="354.31" y="140.60" font-size="11.92" text-anchor="middle" >8</text>
<text x="354.31" y="292.00" font-size="11.92" text-anchor="middle" >8</text>
<text x="31.90" y="124.90" font-size="11.92" text-anchor="end" >0</text>
<text x="31.90" y="94.50" font-size="11.92" text-anchor="end" >2</text>
<text x="31.90" y="64.10" font-size="11.92" text-anchor="end" >4</text>
<text x="31.90" y="33.70" font-size="11.92" text-anchor="end" >6</text>
<text x="31.90" y="276.40" font-size="11.92" text-anchor="end" textLength="17.89">0.0</text>
<text x="31.90" y="250.20" font-size="11.92" text-anchor="end" textLength="17.89">0.5</text>
<text x="31.90" y="224.00" font-size="11.92" text-anchor="end" textLength="17.89">1.0</text>
<text x="31.90" y="197.80" font-size="11.92" text-anchor="end" textLength="17.89">1.5</text>
<text x="31.90" y="171.60" font-size="11.92" text-anchor="end" textLength="17.89">2.0</text>
<text x="124.60 129.80 134.92 141.59 146.98 151.58 157.31 164.31 169.76 175.08 181.12 189.25 198.46 205.62 211.49 217.36 223.11 228.98 234.96 240.71 245.93 249.98 255.74 263.18 269.33" y="305.90" font-size="12.13" text-anchor="middle" xml:space="preserve" >Electron Temperature (eV)</text>
<g transform="translate(20.00,128.30) rotate(-90)"><text x="3.02 9.19 15.84 20.92 24.46 28.00 32.77 39.13" y="0.00" font-size="10.60" text-anchor="middle" xml:space="preserve" >PEC ( 10</text><text x="45.25 50.41" y="-3.60" font-size="7.42" text-anchor="middle" xml:space="preserve" >−9</text><text x="54.22 58.99 65.33 71.56 76.12 79.21 83.40" y="0.00" font-size="10.60" text-anchor="middle" xml:space="preserve" > pho. s</text><text x="88.94 94.10" y="-3.60" font-size="7.42" text-anchor="middle" xml:space="preserve" >−1</text><text x="97.92 102.25 109.87" y="0.00" font-size="10.60" text-anchor="middle" xml:space="preserve" > cm</text><text x="117.68 122.84" y="-3.60" font-size="7.42" text-anchor="middle" xml:space="preserve" >−3</text><text x="127.01" y="0.00" font-size="10.60" text-anchor="middle" xml:space="preserve" >)</text></g>
<g transform="translate(9.30,305.60) rotate(-90)"><text x="4.94 12.67 16.84 21.41 27.75 32.88 37.92 44.17 48.93 53.53 59.71 66.36 71.44 74.98 78.52 83.29 89.65" y="0.00" font-size="10.60" text-anchor="middle" xml:space="preserve" >Weighted PEC ( 10</text><text x="95.77 100.92" y="-3.60" font-size="7.42" text-anchor="middle" xml:space="preserve" >−9</text><text x="104.74 109.50 115.85 122.07 126.64 129.73 133.92" y="0.00" font-size="10.60" text-anchor="middle" xml:space="preserve" > pho. s</text><text x="139.46 144.62" y="-3.60" font-size="7.42" text-anchor="middle" xml:space="preserve" >−1</text><text x="148.43 152.77 160.39" y="0.00" font-size="10.60" text-anchor="middle" xml:space="preserve" > cm</text><text x="168.20 173.35" y="-3.60" font-size="7.42" text-anchor="middle" xml:space="preserve" >−3</text><text x="177.53" y="0.00" font-size="10.60" text-anchor="middle" xml:space="preserve" >)</text></g>
<rect x="50.4" y="142.9" width="259.20" height="87.60" rx="1.6" fill="#fff" fill-opacity="1" stroke="#d6d6d6" stroke-width="1"/>
<line x1="52.6" y1="150.50" x2="67.20" y2="150.50" stroke="#ff0000" stroke-width="1.2" stroke-dasharray="3.9,1.7"/>
<text x="75.96 81.21 84.79 88.35 92.38 95.62 99.19 103.62 106.86 110.03 113.34 117.44 122.67 126.06 128.57 132.21 135.93 139.48 143.82 148.32 152.83 156.21 158.47 161.85" y="152.30" font-size="7.52" text-anchor="middle" xml:space="preserve" class="lt">Metastable #0 (ground, 5</text><text x="166.36" y="152.30" font-size="7.52" text-anchor="middle" font-style="italic" xml:space="preserve" class="lt">d</text><text x="170.80" y="149.60" font-size="5.27" text-anchor="middle" xml:space="preserve" class="lt">9</text><text x="174.64" y="152.30" font-size="7.52" text-anchor="middle" xml:space="preserve" class="lt">6</text><text x="178.75" y="152.30" font-size="7.52" text-anchor="middle" font-style="italic" xml:space="preserve" class="lt">s</text><text x="181.98" y="152.30" font-size="7.52" text-anchor="middle" xml:space="preserve" class="lt">)</text>
<line x1="52.6" y1="162.58" x2="67.20" y2="162.58" stroke="#ff0000" stroke-width="1.2"/>
<text x="75.96 81.21 84.79 88.35 92.38 95.62 99.19 103.62 106.86 110.03 113.34 117.44 122.67 126.06 128.57 132.22" y="164.38" font-size="7.52" text-anchor="middle" xml:space="preserve" class="lt">Metastable #1 (5</text><text x="136.73" y="164.38" font-size="7.52" text-anchor="middle" font-style="italic" xml:space="preserve" class="lt">d</text><text x="141.17" y="161.68" font-size="5.27" text-anchor="middle" xml:space="preserve" class="lt">9</text><text x="145.00" y="164.38" font-size="7.52" text-anchor="middle" xml:space="preserve" class="lt">6</text><text x="149.11" y="164.38" font-size="7.52" text-anchor="middle" font-style="italic" xml:space="preserve" class="lt">s</text><text x="152.35" y="164.38" font-size="7.52" text-anchor="middle" xml:space="preserve" class="lt">)</text>
<line x1="52.6" y1="174.66" x2="67.20" y2="174.66" stroke="#000000" stroke-width="1.2" stroke-dasharray="3.9,1.7"/>
<text x="75.96 81.21 84.79 88.35 92.38 95.62 99.19 103.62 106.86 110.03 113.34 117.44 122.67 126.06 128.57 132.22" y="176.46" font-size="7.52" text-anchor="middle" xml:space="preserve" class="lt">Metastable #2 (5</text><text x="136.73" y="176.46" font-size="7.52" text-anchor="middle" font-style="italic" xml:space="preserve" class="lt">d</text><text x="141.17" y="173.76" font-size="5.27" text-anchor="middle" xml:space="preserve" class="lt">8</text><text x="145.00" y="176.46" font-size="7.52" text-anchor="middle" xml:space="preserve" class="lt">6</text><text x="149.11" y="176.46" font-size="7.52" text-anchor="middle" font-style="italic" xml:space="preserve" class="lt">s</text><text x="153.14" y="173.76" font-size="5.27" text-anchor="middle" xml:space="preserve" class="lt">2</text><text x="156.11" y="176.46" font-size="7.52" text-anchor="middle" xml:space="preserve" class="lt">)</text>
<line x1="52.6" y1="186.74" x2="67.20" y2="186.74" stroke="#000000" stroke-width="1.2"/>
<text x="75.96 81.21 84.79 88.35 92.38 95.62 99.19 103.62 106.86 110.03 113.34 117.44 122.67 126.06 128.57 132.22" y="188.54" font-size="7.52" text-anchor="middle" xml:space="preserve" class="lt">Metastable #3 (5</text><text x="136.73" y="188.54" font-size="7.52" text-anchor="middle" font-style="italic" xml:space="preserve" class="lt">d</text><text x="141.17 144.33" y="185.84" font-size="5.27" text-anchor="middle" xml:space="preserve" class="lt">10</text><text x="147.29" y="188.54" font-size="7.52" text-anchor="middle" xml:space="preserve" class="lt">)</text>
<line x1="52.6" y1="198.82" x2="67.20" y2="198.82" stroke="#0000ff" stroke-width="1.2" stroke-dasharray="3.9,1.7"/>
<text x="75.96 81.21 84.79 88.35 92.38 95.62 99.19 103.62 106.86 110.03 113.34 117.44 122.67 126.06 128.57 132.22" y="200.62" font-size="7.52" text-anchor="middle" xml:space="preserve" class="lt">Metastable #4 (5</text><text x="136.73" y="200.62" font-size="7.52" text-anchor="middle" font-style="italic" xml:space="preserve" class="lt">d</text><text x="141.17" y="197.92" font-size="5.27" text-anchor="middle" xml:space="preserve" class="lt">9</text><text x="145.00" y="200.62" font-size="7.52" text-anchor="middle" xml:space="preserve" class="lt">6</text><text x="149.11" y="200.62" font-size="7.52" text-anchor="middle" font-style="italic" xml:space="preserve" class="lt">s</text><text x="152.35" y="200.62" font-size="7.52" text-anchor="middle" xml:space="preserve" class="lt">)</text>
<line x1="52.6" y1="210.90" x2="67.20" y2="210.90" stroke="#0000ff" stroke-width="1.2"/>
<text x="75.96 81.21 84.79 88.35 92.38 95.62 99.19 103.62 106.86 110.03 113.34 117.44 122.67 126.06 128.57 132.22" y="212.70" font-size="7.52" text-anchor="middle" xml:space="preserve" class="lt">Metastable #5 (5</text><text x="136.73" y="212.70" font-size="7.52" text-anchor="middle" font-style="italic" xml:space="preserve" class="lt">d</text><text x="141.17" y="210.00" font-size="5.27" text-anchor="middle" xml:space="preserve" class="lt">8</text><text x="145.00" y="212.70" font-size="7.52" text-anchor="middle" xml:space="preserve" class="lt">6</text><text x="149.11" y="212.70" font-size="7.52" text-anchor="middle" font-style="italic" xml:space="preserve" class="lt">s</text><text x="153.14" y="210.00" font-size="5.27" text-anchor="middle" xml:space="preserve" class="lt">2</text><text x="156.11" y="212.70" font-size="7.52" text-anchor="middle" xml:space="preserve" class="lt">)</text>
<line x1="52.6" y1="222.98" x2="67.20" y2="222.98" stroke="#800080" stroke-width="1.2" stroke-dasharray="3.9,1.7"/>
<text x="75.96 81.21 84.79 88.35 92.38 95.62 99.19 103.62 106.86 110.03 113.34 117.44 122.67 126.06 128.57 132.22" y="224.78" font-size="7.52" text-anchor="middle" xml:space="preserve" class="lt">Metastable #6 (5</text><text x="136.73" y="224.78" font-size="7.52" text-anchor="middle" font-style="italic" xml:space="preserve" class="lt">d</text><text x="141.17" y="222.08" font-size="5.27" text-anchor="middle" xml:space="preserve" class="lt">9</text><text x="145.00" y="224.78" font-size="7.52" text-anchor="middle" xml:space="preserve" class="lt">6</text><text x="149.11" y="224.78" font-size="7.52" text-anchor="middle" font-style="italic" xml:space="preserve" class="lt">s</text><text x="152.35" y="224.78" font-size="7.52" text-anchor="middle" xml:space="preserve" class="lt">)</text>
<line x1="197.2" y1="150.50" x2="211.80" y2="150.50" stroke="#800080" stroke-width="1.2"/>
<text x="220.56 225.81 229.39 232.95 236.98 240.22 243.79 248.22 251.46 254.63 257.94 262.04 267.27 270.66 273.18 276.82" y="152.30" font-size="7.52" text-anchor="middle" xml:space="preserve" class="lt">Metastable #7 (5</text><text x="281.33" y="152.30" font-size="7.52" text-anchor="middle" font-style="italic" xml:space="preserve" class="lt">d</text><text x="285.77" y="149.60" font-size="5.27" text-anchor="middle" xml:space="preserve" class="lt">9</text><text x="289.60" y="152.30" font-size="7.52" text-anchor="middle" xml:space="preserve" class="lt">6</text><text x="293.71" y="152.30" font-size="7.52" text-anchor="middle" font-style="italic" xml:space="preserve" class="lt">s</text><text x="296.95" y="152.30" font-size="7.52" text-anchor="middle" xml:space="preserve" class="lt">)</text>
<line x1="197.2" y1="162.58" x2="211.80" y2="162.58" stroke="#00ffff" stroke-width="1.2" stroke-dasharray="3.9,1.7"/>
<text x="220.56 225.81 229.39 232.95 236.98 240.22 243.79 248.22 251.46 254.63 257.94 262.04 267.27 270.66 273.18 276.82" y="164.38" font-size="7.52" text-anchor="middle" xml:space="preserve" class="lt">Metastable #8 (5</text><text x="281.33" y="164.38" font-size="7.52" text-anchor="middle" font-style="italic" xml:space="preserve" class="lt">d</text><text x="285.77" y="161.68" font-size="5.27" text-anchor="middle" xml:space="preserve" class="lt">8</text><text x="289.60" y="164.38" font-size="7.52" text-anchor="middle" xml:space="preserve" class="lt">6</text><text x="293.71" y="164.38" font-size="7.52" text-anchor="middle" font-style="italic" xml:space="preserve" class="lt">s</text><text x="297.74" y="161.68" font-size="5.27" text-anchor="middle" xml:space="preserve" class="lt">2</text><text x="300.71" y="164.38" font-size="7.52" text-anchor="middle" xml:space="preserve" class="lt">)</text>
<line x1="197.2" y1="174.66" x2="211.80" y2="174.66" stroke="#00ffff" stroke-width="1.2"/>
<text x="220.56 225.81 229.39 232.95 236.98 240.22 243.79 248.22 251.46 254.63 257.94 262.04 267.27 270.66 273.18 276.82" y="176.46" font-size="7.52" text-anchor="middle" xml:space="preserve" class="lt">Metastable #9 (5</text><text x="281.33" y="176.46" font-size="7.52" text-anchor="middle" font-style="italic" xml:space="preserve" class="lt">d</text><text x="285.77" y="173.76" font-size="5.27" text-anchor="middle" xml:space="preserve" class="lt">8</text><text x="289.60" y="176.46" font-size="7.52" text-anchor="middle" xml:space="preserve" class="lt">6</text><text x="293.71" y="176.46" font-size="7.52" text-anchor="middle" font-style="italic" xml:space="preserve" class="lt">s</text><text x="297.74" y="173.76" font-size="5.27" text-anchor="middle" xml:space="preserve" class="lt">2</text><text x="300.71" y="176.46" font-size="7.52" text-anchor="middle" xml:space="preserve" class="lt">)</text>
<line x1="197.2" y1="186.74" x2="211.80" y2="186.74" stroke="#a52a2a" stroke-width="1.2" stroke-dasharray="3.9,1.7"/>
<text x="220.56 225.81 229.39 232.95 236.98 240.22 243.79 248.22 251.46 254.63 257.94 262.04 267.27 271.79 275.18 277.69 281.34" y="188.54" font-size="7.52" text-anchor="middle" xml:space="preserve" class="lt">Metastable #10 (5</text><text x="285.85" y="188.54" font-size="7.52" text-anchor="middle" font-style="italic" xml:space="preserve" class="lt">d</text><text x="290.28" y="185.84" font-size="5.27" text-anchor="middle" xml:space="preserve" class="lt">8</text><text x="294.12" y="188.54" font-size="7.52" text-anchor="middle" xml:space="preserve" class="lt">6</text><text x="298.23" y="188.54" font-size="7.52" text-anchor="middle" font-style="italic" xml:space="preserve" class="lt">s</text><text x="302.26" y="185.84" font-size="5.27" text-anchor="middle" xml:space="preserve" class="lt">2</text><text x="305.23" y="188.54" font-size="7.52" text-anchor="middle" xml:space="preserve" class="lt">)</text>
<line x1="197.2" y1="198.82" x2="211.80" y2="198.82" stroke="#a52a2a" stroke-width="1.2"/>
<text x="220.56 225.81 229.39 232.95 236.98 240.22 243.79 248.22 251.46 254.63 257.94 262.04 267.27 271.79 275.18 277.69 281.34" y="200.62" font-size="7.52" text-anchor="middle" xml:space="preserve" class="lt">Metastable #11 (5</text><text x="285.85" y="200.62" font-size="7.52" text-anchor="middle" font-style="italic" xml:space="preserve" class="lt">d</text><text x="290.28" y="197.92" font-size="5.27" text-anchor="middle" xml:space="preserve" class="lt">8</text><text x="294.12" y="200.62" font-size="7.52" text-anchor="middle" xml:space="preserve" class="lt">6</text><text x="298.23" y="200.62" font-size="7.52" text-anchor="middle" font-style="italic" xml:space="preserve" class="lt">s</text><text x="302.26" y="197.92" font-size="5.27" text-anchor="middle" xml:space="preserve" class="lt">2</text><text x="305.23" y="200.62" font-size="7.52" text-anchor="middle" xml:space="preserve" class="lt">)</text>
<line x1="197.2" y1="210.90" x2="211.80" y2="210.90" stroke="#ffa500" stroke-width="1.2" stroke-dasharray="3.9,1.7"/>
<text x="220.56 225.81 229.39 232.95 236.98 240.22 243.79 248.22 251.46 254.63 257.94 262.04 267.27 271.79 275.18 277.69 281.34" y="212.70" font-size="7.52" text-anchor="middle" xml:space="preserve" class="lt">Metastable #12 (5</text><text x="285.85" y="212.70" font-size="7.52" text-anchor="middle" font-style="italic" xml:space="preserve" class="lt">d</text><text x="290.28" y="210.00" font-size="5.27" text-anchor="middle" xml:space="preserve" class="lt">8</text><text x="294.12" y="212.70" font-size="7.52" text-anchor="middle" xml:space="preserve" class="lt">6</text><text x="298.23" y="212.70" font-size="7.52" text-anchor="middle" font-style="italic" xml:space="preserve" class="lt">s</text><text x="302.26" y="210.00" font-size="5.27" text-anchor="middle" xml:space="preserve" class="lt">2</text><text x="305.23" y="212.70" font-size="7.52" text-anchor="middle" xml:space="preserve" class="lt">)</text>
</svg></body></html>
